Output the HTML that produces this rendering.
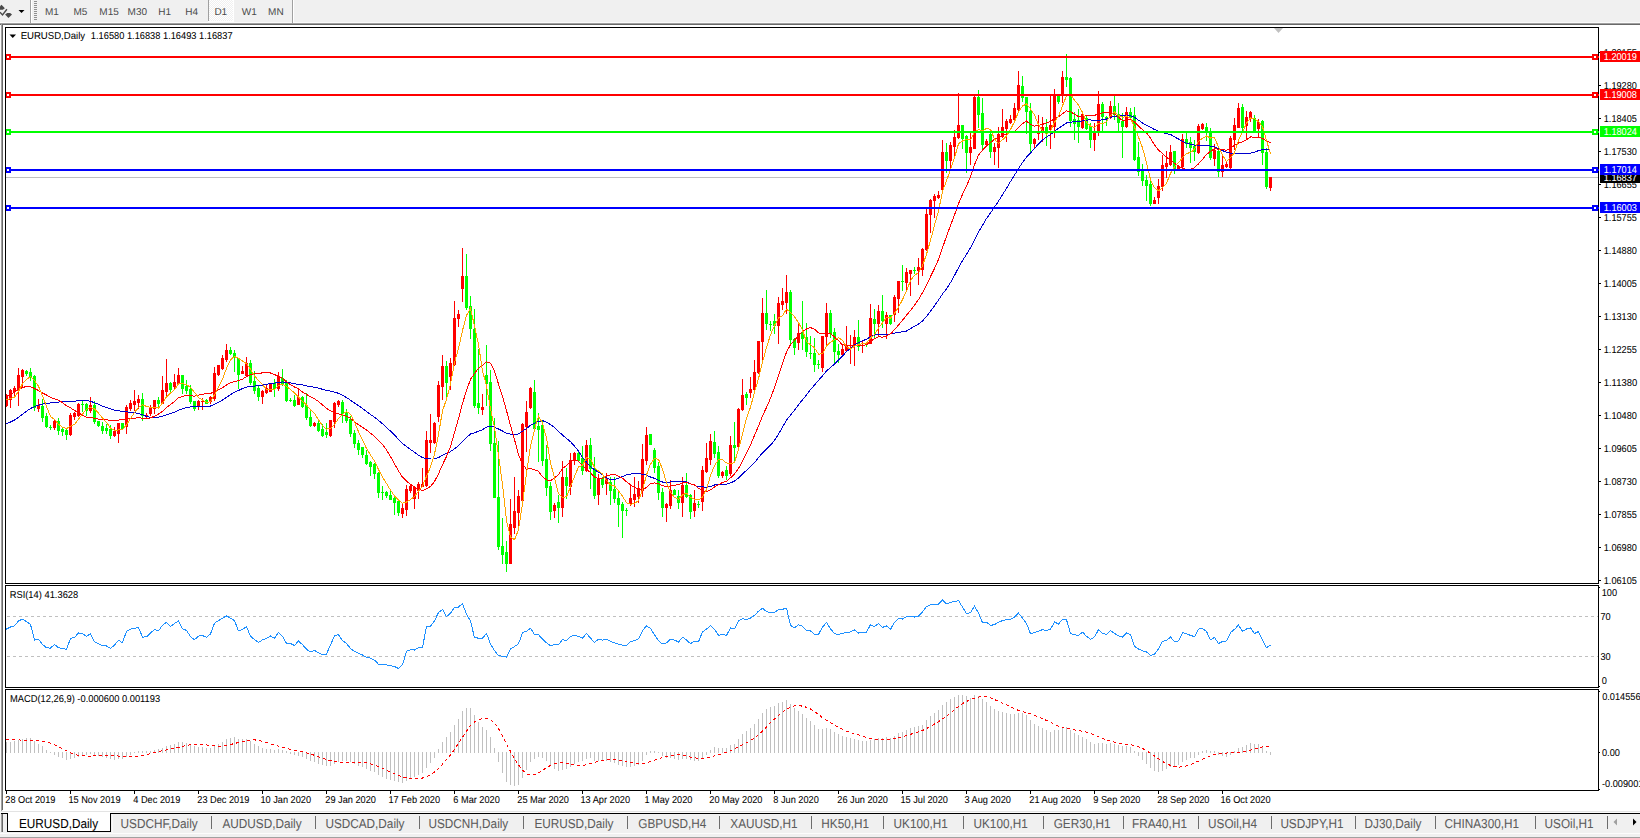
<!DOCTYPE html>
<html><head><meta charset="utf-8"><title>EURUSD,Daily</title>
<style>html,body{margin:0;padding:0;width:1640px;height:838px;overflow:hidden;background:#f0f0f0;font-family:"Liberation Sans", sans-serif;}
svg{display:block}</style></head><body><svg width="1640" height="838" viewBox="0 0 1640 838" font-family='"Liberation Sans", sans-serif' text-rendering="geometricPrecision"><rect x="0" y="0" width="1640" height="838" fill="#f0f0f0"/><rect x="0" y="22" width="1640" height="1" fill="#fbfbfb"/><rect x="0" y="23" width="1640" height="1" fill="#a0a0a0"/><rect x="0" y="24" width="1640" height="1" fill="#696969"/><rect x="0" y="25" width="1" height="813" fill="#fbfbfb"/><rect x="1" y="23" width="1" height="788" fill="#a0a0a0"/><rect x="2" y="24" width="1" height="786" fill="#696969"/><rect x="3" y="25" width="1637" height="786" fill="#ffffff"/><path d="M0 6.3 L1.5 4.8 L4.9 8.3 L2.8 9.8 L0 9.8 Z" fill="#4a4a4a"/><polyline points="0,12.3 2.5,14.9 6.9,9.3" fill="none" stroke="#4a4a4a" stroke-width="1.4"/><path d="M5.1 14.6 L7.2 13 L10.1 13 L12 14.6 L8.5 18 Z" fill="#4a4a4a"/><path d="M18.5 10 L24.5 10 L21.5 13 Z" fill="#000"/><rect x="30" y="0" width="1" height="23" fill="#a0a0a0"/><rect x="31" y="0" width="1" height="23" fill="#ffffff"/><rect x="34" y="1" width="3" height="1" fill="#8f8f8f"/><rect x="34" y="3" width="3" height="1" fill="#8f8f8f"/><rect x="34" y="5" width="3" height="1" fill="#8f8f8f"/><rect x="34" y="7" width="3" height="1" fill="#8f8f8f"/><rect x="34" y="9" width="3" height="1" fill="#8f8f8f"/><rect x="34" y="11" width="3" height="1" fill="#8f8f8f"/><rect x="34" y="13" width="3" height="1" fill="#8f8f8f"/><rect x="34" y="15" width="3" height="1" fill="#8f8f8f"/><rect x="34" y="17" width="3" height="1" fill="#8f8f8f"/><rect x="34" y="19" width="3" height="1" fill="#8f8f8f"/><defs><pattern id="dith" width="2" height="2" patternUnits="userSpaceOnUse"><rect width="2" height="2" fill="#f0f0f0"/><rect width="1" height="1" fill="#fff"/><rect x="1" y="1" width="1" height="1" fill="#fff"/></pattern></defs><rect x="209" y="0" width="24" height="21" fill="url(#dith)"/><rect x="208" y="0" width="1" height="21" fill="#a0a0a0"/><rect x="233" y="0" width="1" height="22" fill="#ffffff"/><rect x="208" y="21" width="26" height="1" fill="#ffffff"/><rect x="292" y="0" width="1" height="23" fill="#a0a0a0"/><rect x="293" y="0" width="1" height="23" fill="#ffffff"/><text x="45" y="15" font-size="10" fill="#4a4a4a" stroke="none">M1</text><text x="73.5" y="15" font-size="10" fill="#4a4a4a" stroke="none">M5</text><text x="99.3" y="15" font-size="10" fill="#4a4a4a" stroke="none">M15</text><text x="127.6" y="15" font-size="10" fill="#4a4a4a" stroke="none">M30</text><text x="158.3" y="15" font-size="10" fill="#4a4a4a" stroke="none">H1</text><text x="185.2" y="15" font-size="10" fill="#4a4a4a" stroke="none">H4</text><text x="214.4" y="15" font-size="10" fill="#4a4a4a" stroke="none">D1</text><text x="241.8" y="15" font-size="10" fill="#4a4a4a" stroke="none">W1</text><text x="268.1" y="15" font-size="10" fill="#4a4a4a" stroke="none">MN</text><defs><clipPath id="cm"><rect x="6" y="28" width="1592" height="555"/></clipPath><clipPath id="cr"><rect x="6" y="586" width="1592" height="101"/></clipPath><clipPath id="cd"><rect x="6" y="690" width="1592" height="100"/></clipPath></defs><g clip-path="url(#cm)" shape-rendering="crispEdges"><rect x="6" y="177" width="1592" height="1" fill="#c0c0c0"/><rect x="6" y="394" width="1" height="13" fill="#ff0000"/><rect x="5" y="395" width="3" height="11" fill="#ff0000"/><rect x="10" y="389" width="1" height="19" fill="#ff0000"/><rect x="9" y="390" width="3" height="10" fill="#ff0000"/><rect x="14" y="386" width="1" height="10" fill="#ff0000"/><rect x="13" y="388" width="3" height="4" fill="#ff0000"/><rect x="18" y="368" width="1" height="38" fill="#ff0000"/><rect x="17" y="375" width="3" height="15" fill="#ff0000"/><rect x="22" y="369" width="1" height="19" fill="#ff0000"/><rect x="21" y="370" width="3" height="7" fill="#ff0000"/><rect x="26" y="370" width="1" height="6" fill="#00ff00"/><rect x="25" y="371" width="3" height="3" fill="#00ff00"/><rect x="30" y="368" width="1" height="13" fill="#00ff00"/><rect x="29" y="372" width="3" height="6" fill="#00ff00"/><rect x="34" y="375" width="1" height="36" fill="#00ff00"/><rect x="33" y="376" width="3" height="32" fill="#00ff00"/><rect x="38" y="399" width="1" height="13" fill="#ff0000"/><rect x="37" y="405" width="3" height="4" fill="#ff0000"/><rect x="42" y="399" width="1" height="23" fill="#00ff00"/><rect x="41" y="406" width="3" height="12" fill="#00ff00"/><rect x="46" y="413" width="1" height="15" fill="#00ff00"/><rect x="45" y="416" width="3" height="11" fill="#00ff00"/><rect x="50" y="425" width="1" height="5" fill="#00ff00"/><rect x="49" y="427" width="3" height="1" fill="#00ff00"/><rect x="54" y="419" width="1" height="11" fill="#ff0000"/><rect x="53" y="421" width="3" height="7" fill="#ff0000"/><rect x="58" y="418" width="1" height="17" fill="#00ff00"/><rect x="57" y="421" width="3" height="10" fill="#00ff00"/><rect x="62" y="427" width="1" height="9" fill="#00ff00"/><rect x="61" y="429" width="3" height="3" fill="#00ff00"/><rect x="66" y="428" width="1" height="12" fill="#00ff00"/><rect x="65" y="430" width="3" height="5" fill="#00ff00"/><rect x="70" y="413" width="1" height="23" fill="#ff0000"/><rect x="69" y="415" width="3" height="20" fill="#ff0000"/><rect x="74" y="412" width="1" height="8" fill="#ff0000"/><rect x="73" y="413" width="3" height="4" fill="#ff0000"/><rect x="78" y="403" width="1" height="14" fill="#ff0000"/><rect x="77" y="404" width="3" height="12" fill="#ff0000"/><rect x="82" y="401" width="1" height="11" fill="#00ff00"/><rect x="81" y="404" width="3" height="1" fill="#00ff00"/><rect x="86" y="403" width="1" height="13" fill="#00ff00"/><rect x="85" y="404" width="3" height="7" fill="#00ff00"/><rect x="90" y="397" width="1" height="16" fill="#ff0000"/><rect x="89" y="405" width="3" height="6" fill="#ff0000"/><rect x="94" y="401" width="1" height="23" fill="#00ff00"/><rect x="93" y="405" width="3" height="17" fill="#00ff00"/><rect x="98" y="421" width="1" height="6" fill="#00ff00"/><rect x="97" y="421" width="3" height="5" fill="#00ff00"/><rect x="102" y="422" width="1" height="12" fill="#00ff00"/><rect x="101" y="426" width="3" height="5" fill="#00ff00"/><rect x="106" y="424" width="1" height="10" fill="#00ff00"/><rect x="105" y="428" width="3" height="3" fill="#00ff00"/><rect x="110" y="425" width="1" height="14" fill="#00ff00"/><rect x="109" y="429" width="3" height="7" fill="#00ff00"/><rect x="114" y="427" width="1" height="10" fill="#ff0000"/><rect x="113" y="431" width="3" height="5" fill="#ff0000"/><rect x="118" y="423" width="1" height="20" fill="#ff0000"/><rect x="117" y="423" width="3" height="11" fill="#ff0000"/><rect x="122" y="423" width="1" height="7" fill="#00ff00"/><rect x="121" y="423" width="3" height="6" fill="#00ff00"/><rect x="126" y="405" width="1" height="29" fill="#ff0000"/><rect x="125" y="407" width="3" height="20" fill="#ff0000"/><rect x="130" y="400" width="1" height="11" fill="#ff0000"/><rect x="129" y="403" width="3" height="6" fill="#ff0000"/><rect x="134" y="390" width="1" height="21" fill="#ff0000"/><rect x="133" y="401" width="3" height="4" fill="#ff0000"/><rect x="138" y="395" width="1" height="14" fill="#ff0000"/><rect x="137" y="399" width="3" height="4" fill="#ff0000"/><rect x="142" y="393" width="1" height="28" fill="#00ff00"/><rect x="141" y="399" width="3" height="17" fill="#00ff00"/><rect x="146" y="413" width="1" height="5" fill="#ff0000"/><rect x="145" y="415" width="3" height="2" fill="#ff0000"/><rect x="150" y="405" width="1" height="11" fill="#ff0000"/><rect x="149" y="408" width="3" height="6" fill="#ff0000"/><rect x="154" y="400" width="1" height="14" fill="#ff0000"/><rect x="153" y="400" width="3" height="9" fill="#ff0000"/><rect x="158" y="397" width="1" height="12" fill="#00ff00"/><rect x="157" y="400" width="3" height="4" fill="#00ff00"/><rect x="162" y="376" width="1" height="28" fill="#ff0000"/><rect x="161" y="390" width="3" height="14" fill="#ff0000"/><rect x="166" y="359" width="1" height="38" fill="#ff0000"/><rect x="165" y="383" width="3" height="9" fill="#ff0000"/><rect x="170" y="382" width="1" height="12" fill="#00ff00"/><rect x="169" y="383" width="3" height="7" fill="#00ff00"/><rect x="174" y="374" width="1" height="16" fill="#ff0000"/><rect x="173" y="382" width="3" height="5" fill="#ff0000"/><rect x="178" y="368" width="1" height="17" fill="#ff0000"/><rect x="177" y="375" width="3" height="9" fill="#ff0000"/><rect x="182" y="375" width="1" height="19" fill="#00ff00"/><rect x="181" y="375" width="3" height="14" fill="#00ff00"/><rect x="186" y="380" width="1" height="14" fill="#00ff00"/><rect x="185" y="386" width="3" height="5" fill="#00ff00"/><rect x="190" y="385" width="1" height="19" fill="#00ff00"/><rect x="189" y="389" width="3" height="13" fill="#00ff00"/><rect x="194" y="401" width="1" height="10" fill="#00ff00"/><rect x="193" y="401" width="3" height="8" fill="#00ff00"/><rect x="198" y="400" width="1" height="10" fill="#ff0000"/><rect x="197" y="401" width="3" height="5" fill="#ff0000"/><rect x="202" y="398" width="1" height="12" fill="#ff0000"/><rect x="201" y="401" width="3" height="1" fill="#ff0000"/><rect x="206" y="399" width="1" height="5" fill="#00ff00"/><rect x="205" y="400" width="3" height="4" fill="#00ff00"/><rect x="210" y="396" width="1" height="8" fill="#ff0000"/><rect x="209" y="397" width="3" height="5" fill="#ff0000"/><rect x="214" y="367" width="1" height="34" fill="#ff0000"/><rect x="213" y="373" width="3" height="26" fill="#ff0000"/><rect x="218" y="365" width="1" height="11" fill="#ff0000"/><rect x="217" y="365" width="3" height="10" fill="#ff0000"/><rect x="222" y="355" width="1" height="15" fill="#ff0000"/><rect x="221" y="358" width="3" height="11" fill="#ff0000"/><rect x="226" y="344" width="1" height="18" fill="#ff0000"/><rect x="225" y="350" width="3" height="10" fill="#ff0000"/><rect x="230" y="347" width="1" height="8" fill="#00ff00"/><rect x="229" y="350" width="3" height="4" fill="#00ff00"/><rect x="234" y="350" width="1" height="22" fill="#00ff00"/><rect x="233" y="353" width="3" height="5" fill="#00ff00"/><rect x="238" y="358" width="1" height="31" fill="#00ff00"/><rect x="237" y="358" width="3" height="17" fill="#00ff00"/><rect x="242" y="366" width="1" height="8" fill="#ff0000"/><rect x="241" y="371" width="3" height="3" fill="#ff0000"/><rect x="246" y="357" width="1" height="20" fill="#ff0000"/><rect x="245" y="363" width="3" height="13" fill="#ff0000"/><rect x="250" y="360" width="1" height="25" fill="#00ff00"/><rect x="249" y="363" width="3" height="20" fill="#00ff00"/><rect x="254" y="371" width="1" height="23" fill="#00ff00"/><rect x="253" y="381" width="3" height="10" fill="#00ff00"/><rect x="258" y="386" width="1" height="15" fill="#00ff00"/><rect x="257" y="388" width="3" height="9" fill="#00ff00"/><rect x="262" y="390" width="1" height="14" fill="#ff0000"/><rect x="261" y="391" width="3" height="6" fill="#ff0000"/><rect x="266" y="384" width="1" height="10" fill="#ff0000"/><rect x="265" y="388" width="3" height="5" fill="#ff0000"/><rect x="270" y="383" width="1" height="9" fill="#ff0000"/><rect x="269" y="384" width="3" height="8" fill="#ff0000"/><rect x="274" y="379" width="1" height="18" fill="#00ff00"/><rect x="273" y="383" width="3" height="6" fill="#00ff00"/><rect x="278" y="372" width="1" height="19" fill="#ff0000"/><rect x="277" y="376" width="3" height="13" fill="#ff0000"/><rect x="282" y="369" width="1" height="17" fill="#00ff00"/><rect x="281" y="378" width="3" height="7" fill="#00ff00"/><rect x="286" y="380" width="1" height="22" fill="#00ff00"/><rect x="285" y="383" width="3" height="18" fill="#00ff00"/><rect x="290" y="398" width="1" height="4" fill="#00ff00"/><rect x="289" y="400" width="3" height="1" fill="#00ff00"/><rect x="294" y="395" width="1" height="12" fill="#00ff00"/><rect x="293" y="400" width="3" height="6" fill="#00ff00"/><rect x="298" y="388" width="1" height="17" fill="#ff0000"/><rect x="297" y="397" width="3" height="8" fill="#ff0000"/><rect x="302" y="396" width="1" height="12" fill="#00ff00"/><rect x="301" y="397" width="3" height="10" fill="#00ff00"/><rect x="306" y="393" width="1" height="27" fill="#00ff00"/><rect x="305" y="405" width="3" height="13" fill="#00ff00"/><rect x="310" y="411" width="1" height="16" fill="#00ff00"/><rect x="309" y="417" width="3" height="9" fill="#00ff00"/><rect x="314" y="422" width="1" height="5" fill="#ff0000"/><rect x="313" y="423" width="3" height="3" fill="#ff0000"/><rect x="318" y="420" width="1" height="12" fill="#00ff00"/><rect x="317" y="423" width="3" height="8" fill="#00ff00"/><rect x="322" y="424" width="1" height="13" fill="#00ff00"/><rect x="321" y="429" width="3" height="7" fill="#00ff00"/><rect x="326" y="423" width="1" height="15" fill="#00ff00"/><rect x="325" y="432" width="3" height="3" fill="#00ff00"/><rect x="330" y="420" width="1" height="17" fill="#ff0000"/><rect x="329" y="420" width="3" height="16" fill="#ff0000"/><rect x="334" y="402" width="1" height="26" fill="#ff0000"/><rect x="333" y="403" width="3" height="19" fill="#ff0000"/><rect x="338" y="400" width="1" height="7" fill="#ff0000"/><rect x="337" y="401" width="3" height="4" fill="#ff0000"/><rect x="342" y="400" width="1" height="23" fill="#00ff00"/><rect x="341" y="402" width="3" height="12" fill="#00ff00"/><rect x="346" y="409" width="1" height="14" fill="#00ff00"/><rect x="345" y="412" width="3" height="9" fill="#00ff00"/><rect x="350" y="416" width="1" height="21" fill="#00ff00"/><rect x="349" y="419" width="3" height="15" fill="#00ff00"/><rect x="354" y="430" width="1" height="18" fill="#00ff00"/><rect x="353" y="433" width="3" height="11" fill="#00ff00"/><rect x="358" y="440" width="1" height="15" fill="#00ff00"/><rect x="357" y="443" width="3" height="7" fill="#00ff00"/><rect x="362" y="447" width="1" height="11" fill="#00ff00"/><rect x="361" y="447" width="3" height="8" fill="#00ff00"/><rect x="366" y="450" width="1" height="15" fill="#00ff00"/><rect x="365" y="455" width="3" height="9" fill="#00ff00"/><rect x="370" y="461" width="1" height="15" fill="#00ff00"/><rect x="369" y="462" width="3" height="5" fill="#00ff00"/><rect x="374" y="463" width="1" height="16" fill="#00ff00"/><rect x="373" y="464" width="3" height="10" fill="#00ff00"/><rect x="378" y="472" width="1" height="26" fill="#00ff00"/><rect x="377" y="473" width="3" height="20" fill="#00ff00"/><rect x="382" y="486" width="1" height="14" fill="#00ff00"/><rect x="381" y="492" width="3" height="1" fill="#00ff00"/><rect x="386" y="491" width="1" height="7" fill="#00ff00"/><rect x="385" y="492" width="3" height="4" fill="#00ff00"/><rect x="390" y="490" width="1" height="10" fill="#00ff00"/><rect x="389" y="495" width="3" height="5" fill="#00ff00"/><rect x="394" y="495" width="1" height="20" fill="#00ff00"/><rect x="393" y="498" width="3" height="5" fill="#00ff00"/><rect x="398" y="499" width="1" height="17" fill="#00ff00"/><rect x="397" y="501" width="3" height="12" fill="#00ff00"/><rect x="402" y="503" width="1" height="15" fill="#ff0000"/><rect x="401" y="508" width="3" height="6" fill="#ff0000"/><rect x="406" y="485" width="1" height="31" fill="#ff0000"/><rect x="405" y="489" width="3" height="21" fill="#ff0000"/><rect x="410" y="485" width="1" height="8" fill="#ff0000"/><rect x="409" y="486" width="3" height="5" fill="#ff0000"/><rect x="414" y="486" width="1" height="23" fill="#ff0000"/><rect x="413" y="487" width="3" height="12" fill="#ff0000"/><rect x="418" y="482" width="1" height="17" fill="#ff0000"/><rect x="417" y="484" width="3" height="7" fill="#ff0000"/><rect x="422" y="468" width="1" height="19" fill="#ff0000"/><rect x="421" y="484" width="3" height="3" fill="#ff0000"/><rect x="426" y="431" width="1" height="56" fill="#ff0000"/><rect x="425" y="440" width="3" height="46" fill="#ff0000"/><rect x="430" y="414" width="1" height="39" fill="#ff0000"/><rect x="429" y="440" width="3" height="3" fill="#ff0000"/><rect x="434" y="422" width="1" height="22" fill="#ff0000"/><rect x="433" y="423" width="3" height="20" fill="#ff0000"/><rect x="438" y="381" width="1" height="41" fill="#ff0000"/><rect x="437" y="385" width="3" height="32" fill="#ff0000"/><rect x="442" y="355" width="1" height="45" fill="#ff0000"/><rect x="441" y="366" width="3" height="21" fill="#ff0000"/><rect x="446" y="361" width="1" height="38" fill="#00ff00"/><rect x="445" y="366" width="3" height="17" fill="#00ff00"/><rect x="450" y="358" width="1" height="32" fill="#ff0000"/><rect x="449" y="363" width="3" height="14" fill="#ff0000"/><rect x="454" y="301" width="1" height="65" fill="#ff0000"/><rect x="453" y="318" width="3" height="47" fill="#ff0000"/><rect x="458" y="310" width="1" height="17" fill="#ff0000"/><rect x="457" y="314" width="3" height="5" fill="#ff0000"/><rect x="462" y="248" width="1" height="54" fill="#ff0000"/><rect x="461" y="276" width="3" height="13" fill="#ff0000"/><rect x="466" y="254" width="1" height="56" fill="#00ff00"/><rect x="465" y="276" width="3" height="32" fill="#00ff00"/><rect x="470" y="296" width="1" height="43" fill="#00ff00"/><rect x="469" y="306" width="3" height="23" fill="#00ff00"/><rect x="474" y="309" width="1" height="99" fill="#00ff00"/><rect x="473" y="329" width="3" height="77" fill="#00ff00"/><rect x="478" y="349" width="1" height="65" fill="#00ff00"/><rect x="477" y="403" width="3" height="5" fill="#00ff00"/><rect x="482" y="394" width="1" height="21" fill="#ff0000"/><rect x="481" y="407" width="3" height="3" fill="#ff0000"/><rect x="486" y="345" width="1" height="61" fill="#00ff00"/><rect x="485" y="375" width="3" height="9" fill="#00ff00"/><rect x="490" y="370" width="1" height="81" fill="#00ff00"/><rect x="489" y="382" width="3" height="62" fill="#00ff00"/><rect x="494" y="418" width="1" height="80" fill="#00ff00"/><rect x="493" y="443" width="3" height="55" fill="#00ff00"/><rect x="498" y="441" width="1" height="109" fill="#00ff00"/><rect x="497" y="497" width="3" height="50" fill="#00ff00"/><rect x="502" y="518" width="1" height="46" fill="#00ff00"/><rect x="501" y="546" width="3" height="9" fill="#00ff00"/><rect x="506" y="541" width="1" height="31" fill="#00ff00"/><rect x="505" y="552" width="3" height="12" fill="#00ff00"/><rect x="510" y="499" width="1" height="65" fill="#ff0000"/><rect x="509" y="524" width="3" height="40" fill="#ff0000"/><rect x="514" y="477" width="1" height="57" fill="#ff0000"/><rect x="513" y="511" width="3" height="17" fill="#ff0000"/><rect x="518" y="490" width="1" height="38" fill="#ff0000"/><rect x="517" y="496" width="3" height="17" fill="#ff0000"/><rect x="522" y="423" width="1" height="79" fill="#ff0000"/><rect x="521" y="424" width="3" height="77" fill="#ff0000"/><rect x="526" y="401" width="1" height="51" fill="#ff0000"/><rect x="525" y="412" width="3" height="15" fill="#ff0000"/><rect x="530" y="387" width="1" height="22" fill="#ff0000"/><rect x="529" y="388" width="3" height="20" fill="#ff0000"/><rect x="534" y="380" width="1" height="50" fill="#00ff00"/><rect x="533" y="392" width="3" height="37" fill="#00ff00"/><rect x="538" y="413" width="1" height="49" fill="#00ff00"/><rect x="537" y="426" width="3" height="4" fill="#00ff00"/><rect x="542" y="420" width="1" height="46" fill="#00ff00"/><rect x="541" y="425" width="3" height="36" fill="#00ff00"/><rect x="546" y="445" width="1" height="51" fill="#00ff00"/><rect x="545" y="459" width="3" height="29" fill="#00ff00"/><rect x="550" y="482" width="1" height="38" fill="#00ff00"/><rect x="549" y="486" width="3" height="26" fill="#00ff00"/><rect x="554" y="503" width="1" height="15" fill="#ff0000"/><rect x="553" y="505" width="3" height="6" fill="#ff0000"/><rect x="558" y="495" width="1" height="28" fill="#00ff00"/><rect x="557" y="502" width="3" height="6" fill="#00ff00"/><rect x="562" y="461" width="1" height="56" fill="#ff0000"/><rect x="561" y="477" width="3" height="31" fill="#ff0000"/><rect x="566" y="468" width="1" height="31" fill="#00ff00"/><rect x="565" y="477" width="3" height="9" fill="#00ff00"/><rect x="570" y="453" width="1" height="42" fill="#ff0000"/><rect x="569" y="460" width="3" height="27" fill="#ff0000"/><rect x="574" y="452" width="1" height="13" fill="#ff0000"/><rect x="573" y="453" width="3" height="8" fill="#ff0000"/><rect x="578" y="452" width="1" height="10" fill="#00ff00"/><rect x="577" y="453" width="3" height="8" fill="#00ff00"/><rect x="582" y="446" width="1" height="29" fill="#00ff00"/><rect x="581" y="458" width="3" height="13" fill="#00ff00"/><rect x="586" y="440" width="1" height="32" fill="#ff0000"/><rect x="585" y="445" width="3" height="26" fill="#ff0000"/><rect x="590" y="438" width="1" height="51" fill="#00ff00"/><rect x="589" y="445" width="3" height="24" fill="#00ff00"/><rect x="594" y="457" width="1" height="42" fill="#00ff00"/><rect x="593" y="468" width="3" height="28" fill="#00ff00"/><rect x="598" y="474" width="1" height="31" fill="#ff0000"/><rect x="597" y="478" width="3" height="17" fill="#ff0000"/><rect x="602" y="477" width="1" height="11" fill="#00ff00"/><rect x="601" y="478" width="3" height="7" fill="#00ff00"/><rect x="606" y="473" width="1" height="22" fill="#ff0000"/><rect x="605" y="479" width="3" height="5" fill="#ff0000"/><rect x="610" y="477" width="1" height="28" fill="#00ff00"/><rect x="609" y="482" width="3" height="9" fill="#00ff00"/><rect x="614" y="477" width="1" height="26" fill="#00ff00"/><rect x="613" y="489" width="3" height="10" fill="#00ff00"/><rect x="618" y="492" width="1" height="35" fill="#00ff00"/><rect x="617" y="498" width="3" height="7" fill="#00ff00"/><rect x="622" y="502" width="1" height="36" fill="#00ff00"/><rect x="621" y="504" width="3" height="7" fill="#00ff00"/><rect x="626" y="508" width="1" height="8" fill="#00ff00"/><rect x="625" y="510" width="3" height="1" fill="#00ff00"/><rect x="630" y="486" width="1" height="20" fill="#ff0000"/><rect x="629" y="498" width="3" height="6" fill="#ff0000"/><rect x="634" y="477" width="1" height="30" fill="#ff0000"/><rect x="633" y="494" width="3" height="6" fill="#ff0000"/><rect x="638" y="481" width="1" height="22" fill="#ff0000"/><rect x="637" y="489" width="3" height="8" fill="#ff0000"/><rect x="642" y="444" width="1" height="53" fill="#ff0000"/><rect x="641" y="459" width="3" height="32" fill="#ff0000"/><rect x="646" y="427" width="1" height="38" fill="#ff0000"/><rect x="645" y="435" width="3" height="26" fill="#ff0000"/><rect x="650" y="434" width="1" height="11" fill="#00ff00"/><rect x="649" y="434" width="3" height="11" fill="#00ff00"/><rect x="654" y="448" width="1" height="25" fill="#00ff00"/><rect x="653" y="450" width="3" height="18" fill="#00ff00"/><rect x="658" y="462" width="1" height="38" fill="#00ff00"/><rect x="657" y="466" width="3" height="27" fill="#00ff00"/><rect x="662" y="488" width="1" height="29" fill="#00ff00"/><rect x="661" y="492" width="3" height="16" fill="#00ff00"/><rect x="666" y="503" width="1" height="19" fill="#ff0000"/><rect x="665" y="504" width="3" height="4" fill="#ff0000"/><rect x="670" y="480" width="1" height="29" fill="#ff0000"/><rect x="669" y="490" width="3" height="16" fill="#ff0000"/><rect x="674" y="489" width="1" height="6" fill="#00ff00"/><rect x="673" y="490" width="3" height="5" fill="#00ff00"/><rect x="678" y="490" width="1" height="19" fill="#00ff00"/><rect x="677" y="496" width="3" height="7" fill="#00ff00"/><rect x="682" y="477" width="1" height="40" fill="#ff0000"/><rect x="681" y="485" width="3" height="18" fill="#ff0000"/><rect x="686" y="473" width="1" height="25" fill="#00ff00"/><rect x="685" y="485" width="3" height="12" fill="#00ff00"/><rect x="690" y="494" width="1" height="25" fill="#00ff00"/><rect x="689" y="495" width="3" height="17" fill="#00ff00"/><rect x="694" y="490" width="1" height="27" fill="#ff0000"/><rect x="693" y="503" width="3" height="8" fill="#ff0000"/><rect x="698" y="501" width="1" height="7" fill="#00ff00"/><rect x="697" y="504" width="3" height="1" fill="#00ff00"/><rect x="702" y="466" width="1" height="45" fill="#ff0000"/><rect x="701" y="470" width="3" height="32" fill="#ff0000"/><rect x="706" y="443" width="1" height="30" fill="#ff0000"/><rect x="705" y="458" width="3" height="14" fill="#ff0000"/><rect x="710" y="434" width="1" height="31" fill="#ff0000"/><rect x="709" y="441" width="3" height="19" fill="#ff0000"/><rect x="714" y="431" width="1" height="27" fill="#00ff00"/><rect x="713" y="442" width="3" height="12" fill="#00ff00"/><rect x="718" y="446" width="1" height="32" fill="#00ff00"/><rect x="717" y="452" width="3" height="24" fill="#00ff00"/><rect x="722" y="471" width="1" height="7" fill="#ff0000"/><rect x="721" y="472" width="3" height="4" fill="#ff0000"/><rect x="726" y="466" width="1" height="14" fill="#00ff00"/><rect x="725" y="470" width="3" height="6" fill="#00ff00"/><rect x="730" y="436" width="1" height="40" fill="#ff0000"/><rect x="729" y="445" width="3" height="29" fill="#ff0000"/><rect x="734" y="422" width="1" height="39" fill="#00ff00"/><rect x="733" y="445" width="3" height="3" fill="#00ff00"/><rect x="738" y="408" width="1" height="40" fill="#ff0000"/><rect x="737" y="409" width="3" height="38" fill="#ff0000"/><rect x="742" y="379" width="1" height="32" fill="#ff0000"/><rect x="741" y="395" width="3" height="15" fill="#ff0000"/><rect x="746" y="392" width="1" height="13" fill="#00ff00"/><rect x="745" y="394" width="3" height="4" fill="#00ff00"/><rect x="750" y="377" width="1" height="21" fill="#ff0000"/><rect x="749" y="389" width="3" height="4" fill="#ff0000"/><rect x="754" y="360" width="1" height="31" fill="#ff0000"/><rect x="753" y="372" width="3" height="18" fill="#ff0000"/><rect x="758" y="341" width="1" height="33" fill="#ff0000"/><rect x="757" y="341" width="3" height="32" fill="#ff0000"/><rect x="762" y="298" width="1" height="64" fill="#ff0000"/><rect x="761" y="313" width="3" height="29" fill="#ff0000"/><rect x="766" y="290" width="1" height="40" fill="#00ff00"/><rect x="765" y="313" width="3" height="11" fill="#00ff00"/><rect x="770" y="321" width="1" height="10" fill="#00ff00"/><rect x="769" y="324" width="3" height="1" fill="#00ff00"/><rect x="774" y="314" width="1" height="20" fill="#00ff00"/><rect x="773" y="321" width="3" height="5" fill="#00ff00"/><rect x="778" y="297" width="1" height="47" fill="#ff0000"/><rect x="777" y="303" width="3" height="23" fill="#ff0000"/><rect x="782" y="288" width="1" height="22" fill="#ff0000"/><rect x="781" y="301" width="3" height="4" fill="#ff0000"/><rect x="786" y="275" width="1" height="39" fill="#ff0000"/><rect x="785" y="292" width="3" height="11" fill="#ff0000"/><rect x="790" y="290" width="1" height="54" fill="#00ff00"/><rect x="789" y="292" width="3" height="48" fill="#00ff00"/><rect x="794" y="338" width="1" height="17" fill="#00ff00"/><rect x="793" y="339" width="3" height="9" fill="#00ff00"/><rect x="798" y="324" width="1" height="26" fill="#ff0000"/><rect x="797" y="333" width="3" height="10" fill="#ff0000"/><rect x="802" y="301" width="1" height="49" fill="#00ff00"/><rect x="801" y="333" width="3" height="6" fill="#00ff00"/><rect x="806" y="323" width="1" height="34" fill="#00ff00"/><rect x="805" y="337" width="3" height="15" fill="#00ff00"/><rect x="810" y="336" width="1" height="23" fill="#00ff00"/><rect x="809" y="353" width="3" height="1" fill="#00ff00"/><rect x="814" y="338" width="1" height="34" fill="#00ff00"/><rect x="813" y="353" width="3" height="12" fill="#00ff00"/><rect x="818" y="360" width="1" height="9" fill="#00ff00"/><rect x="817" y="364" width="3" height="1" fill="#00ff00"/><rect x="822" y="336" width="1" height="36" fill="#ff0000"/><rect x="821" y="336" width="3" height="32" fill="#ff0000"/><rect x="826" y="303" width="1" height="44" fill="#ff0000"/><rect x="825" y="313" width="3" height="24" fill="#ff0000"/><rect x="830" y="310" width="1" height="28" fill="#00ff00"/><rect x="829" y="313" width="3" height="21" fill="#00ff00"/><rect x="834" y="328" width="1" height="36" fill="#00ff00"/><rect x="833" y="332" width="3" height="20" fill="#00ff00"/><rect x="838" y="344" width="1" height="19" fill="#00ff00"/><rect x="837" y="351" width="3" height="4" fill="#00ff00"/><rect x="842" y="344" width="1" height="11" fill="#ff0000"/><rect x="841" y="349" width="3" height="6" fill="#ff0000"/><rect x="846" y="326" width="1" height="25" fill="#ff0000"/><rect x="845" y="346" width="3" height="5" fill="#ff0000"/><rect x="850" y="335" width="1" height="29" fill="#ff0000"/><rect x="849" y="345" width="3" height="1" fill="#ff0000"/><rect x="854" y="330" width="1" height="36" fill="#ff0000"/><rect x="853" y="337" width="3" height="9" fill="#ff0000"/><rect x="858" y="320" width="1" height="31" fill="#00ff00"/><rect x="857" y="337" width="3" height="10" fill="#00ff00"/><rect x="862" y="341" width="1" height="12" fill="#ff0000"/><rect x="861" y="345" width="3" height="1" fill="#ff0000"/><rect x="866" y="342" width="1" height="5" fill="#00ff00"/><rect x="865" y="343" width="3" height="1" fill="#00ff00"/><rect x="870" y="304" width="1" height="40" fill="#ff0000"/><rect x="869" y="318" width="3" height="26" fill="#ff0000"/><rect x="874" y="309" width="1" height="29" fill="#00ff00"/><rect x="873" y="319" width="3" height="5" fill="#00ff00"/><rect x="878" y="305" width="1" height="31" fill="#ff0000"/><rect x="877" y="311" width="3" height="13" fill="#ff0000"/><rect x="882" y="295" width="1" height="33" fill="#00ff00"/><rect x="881" y="311" width="3" height="10" fill="#00ff00"/><rect x="886" y="312" width="1" height="27" fill="#ff0000"/><rect x="885" y="315" width="3" height="9" fill="#ff0000"/><rect x="890" y="315" width="1" height="10" fill="#00ff00"/><rect x="889" y="315" width="3" height="9" fill="#00ff00"/><rect x="894" y="295" width="1" height="27" fill="#ff0000"/><rect x="893" y="297" width="3" height="18" fill="#ff0000"/><rect x="898" y="281" width="1" height="32" fill="#ff0000"/><rect x="897" y="281" width="3" height="18" fill="#ff0000"/><rect x="902" y="265" width="1" height="26" fill="#00ff00"/><rect x="901" y="281" width="3" height="1" fill="#00ff00"/><rect x="906" y="268" width="1" height="23" fill="#ff0000"/><rect x="905" y="272" width="3" height="11" fill="#ff0000"/><rect x="910" y="270" width="1" height="26" fill="#ff0000"/><rect x="909" y="270" width="3" height="4" fill="#ff0000"/><rect x="914" y="267" width="1" height="7" fill="#00ff00"/><rect x="913" y="270" width="3" height="1" fill="#00ff00"/><rect x="918" y="258" width="1" height="27" fill="#ff0000"/><rect x="917" y="267" width="3" height="4" fill="#ff0000"/><rect x="922" y="248" width="1" height="28" fill="#ff0000"/><rect x="921" y="249" width="3" height="21" fill="#ff0000"/><rect x="926" y="208" width="1" height="43" fill="#ff0000"/><rect x="925" y="214" width="3" height="36" fill="#ff0000"/><rect x="930" y="199" width="1" height="34" fill="#ff0000"/><rect x="929" y="200" width="3" height="15" fill="#ff0000"/><rect x="934" y="194" width="1" height="24" fill="#ff0000"/><rect x="933" y="196" width="3" height="5" fill="#ff0000"/><rect x="938" y="191" width="1" height="8" fill="#ff0000"/><rect x="937" y="195" width="3" height="3" fill="#ff0000"/><rect x="942" y="140" width="1" height="51" fill="#ff0000"/><rect x="941" y="152" width="3" height="38" fill="#ff0000"/><rect x="946" y="143" width="1" height="30" fill="#00ff00"/><rect x="945" y="152" width="3" height="9" fill="#00ff00"/><rect x="950" y="142" width="1" height="27" fill="#ff0000"/><rect x="949" y="145" width="3" height="16" fill="#ff0000"/><rect x="954" y="130" width="1" height="28" fill="#ff0000"/><rect x="953" y="137" width="3" height="10" fill="#ff0000"/><rect x="958" y="93" width="1" height="46" fill="#ff0000"/><rect x="957" y="125" width="3" height="13" fill="#ff0000"/><rect x="962" y="125" width="1" height="24" fill="#00ff00"/><rect x="961" y="125" width="3" height="14" fill="#00ff00"/><rect x="966" y="135" width="1" height="38" fill="#00ff00"/><rect x="965" y="136" width="3" height="17" fill="#00ff00"/><rect x="970" y="133" width="1" height="32" fill="#ff0000"/><rect x="969" y="147" width="3" height="6" fill="#ff0000"/><rect x="974" y="96" width="1" height="53" fill="#ff0000"/><rect x="973" y="97" width="3" height="52" fill="#ff0000"/><rect x="978" y="90" width="1" height="38" fill="#00ff00"/><rect x="977" y="97" width="3" height="18" fill="#00ff00"/><rect x="982" y="98" width="1" height="52" fill="#00ff00"/><rect x="981" y="113" width="3" height="32" fill="#00ff00"/><rect x="986" y="139" width="1" height="8" fill="#ff0000"/><rect x="985" y="141" width="3" height="4" fill="#ff0000"/><rect x="990" y="133" width="1" height="25" fill="#00ff00"/><rect x="989" y="134" width="3" height="18" fill="#00ff00"/><rect x="994" y="143" width="1" height="22" fill="#ff0000"/><rect x="993" y="147" width="3" height="5" fill="#ff0000"/><rect x="998" y="127" width="1" height="41" fill="#ff0000"/><rect x="997" y="134" width="3" height="14" fill="#ff0000"/><rect x="1002" y="109" width="1" height="29" fill="#ff0000"/><rect x="1001" y="127" width="3" height="10" fill="#ff0000"/><rect x="1006" y="119" width="1" height="23" fill="#ff0000"/><rect x="1005" y="121" width="3" height="8" fill="#ff0000"/><rect x="1010" y="115" width="1" height="9" fill="#ff0000"/><rect x="1009" y="119" width="3" height="4" fill="#ff0000"/><rect x="1014" y="103" width="1" height="18" fill="#ff0000"/><rect x="1013" y="108" width="3" height="12" fill="#ff0000"/><rect x="1018" y="71" width="1" height="40" fill="#ff0000"/><rect x="1017" y="85" width="3" height="25" fill="#ff0000"/><rect x="1022" y="76" width="1" height="26" fill="#00ff00"/><rect x="1021" y="86" width="3" height="12" fill="#00ff00"/><rect x="1026" y="97" width="1" height="37" fill="#00ff00"/><rect x="1025" y="97" width="3" height="15" fill="#00ff00"/><rect x="1030" y="103" width="1" height="49" fill="#00ff00"/><rect x="1029" y="111" width="3" height="33" fill="#00ff00"/><rect x="1034" y="138" width="1" height="11" fill="#ff0000"/><rect x="1033" y="139" width="3" height="5" fill="#ff0000"/><rect x="1038" y="115" width="1" height="25" fill="#ff0000"/><rect x="1037" y="133" width="3" height="1" fill="#ff0000"/><rect x="1042" y="117" width="1" height="25" fill="#ff0000"/><rect x="1041" y="127" width="3" height="4" fill="#ff0000"/><rect x="1046" y="119" width="1" height="27" fill="#00ff00"/><rect x="1045" y="127" width="3" height="4" fill="#00ff00"/><rect x="1050" y="95" width="1" height="54" fill="#ff0000"/><rect x="1049" y="125" width="3" height="5" fill="#ff0000"/><rect x="1054" y="89" width="1" height="49" fill="#ff0000"/><rect x="1053" y="95" width="3" height="32" fill="#ff0000"/><rect x="1058" y="95" width="1" height="9" fill="#00ff00"/><rect x="1057" y="96" width="3" height="6" fill="#00ff00"/><rect x="1062" y="71" width="1" height="32" fill="#ff0000"/><rect x="1061" y="77" width="3" height="19" fill="#ff0000"/><rect x="1066" y="54" width="1" height="33" fill="#00ff00"/><rect x="1065" y="77" width="3" height="3" fill="#00ff00"/><rect x="1070" y="77" width="1" height="50" fill="#00ff00"/><rect x="1069" y="78" width="3" height="43" fill="#00ff00"/><rect x="1074" y="112" width="1" height="28" fill="#00ff00"/><rect x="1073" y="119" width="3" height="5" fill="#00ff00"/><rect x="1078" y="109" width="1" height="34" fill="#00ff00"/><rect x="1077" y="120" width="3" height="7" fill="#00ff00"/><rect x="1082" y="114" width="1" height="15" fill="#ff0000"/><rect x="1081" y="114" width="3" height="14" fill="#ff0000"/><rect x="1086" y="116" width="1" height="14" fill="#00ff00"/><rect x="1085" y="118" width="3" height="11" fill="#00ff00"/><rect x="1090" y="123" width="1" height="25" fill="#00ff00"/><rect x="1089" y="126" width="3" height="14" fill="#00ff00"/><rect x="1094" y="123" width="1" height="28" fill="#ff0000"/><rect x="1093" y="131" width="3" height="9" fill="#ff0000"/><rect x="1098" y="91" width="1" height="45" fill="#ff0000"/><rect x="1097" y="104" width="3" height="28" fill="#ff0000"/><rect x="1102" y="102" width="1" height="30" fill="#00ff00"/><rect x="1101" y="104" width="3" height="13" fill="#00ff00"/><rect x="1106" y="116" width="1" height="10" fill="#00ff00"/><rect x="1105" y="117" width="3" height="3" fill="#00ff00"/><rect x="1110" y="101" width="1" height="18" fill="#ff0000"/><rect x="1109" y="106" width="3" height="11" fill="#ff0000"/><rect x="1114" y="96" width="1" height="24" fill="#00ff00"/><rect x="1113" y="106" width="3" height="9" fill="#00ff00"/><rect x="1118" y="103" width="1" height="29" fill="#00ff00"/><rect x="1117" y="114" width="3" height="9" fill="#00ff00"/><rect x="1122" y="113" width="1" height="45" fill="#00ff00"/><rect x="1121" y="121" width="3" height="6" fill="#00ff00"/><rect x="1126" y="107" width="1" height="21" fill="#ff0000"/><rect x="1125" y="112" width="3" height="15" fill="#ff0000"/><rect x="1130" y="108" width="1" height="12" fill="#00ff00"/><rect x="1129" y="112" width="3" height="6" fill="#00ff00"/><rect x="1134" y="107" width="1" height="54" fill="#00ff00"/><rect x="1133" y="115" width="3" height="45" fill="#00ff00"/><rect x="1138" y="142" width="1" height="34" fill="#00ff00"/><rect x="1137" y="157" width="3" height="15" fill="#00ff00"/><rect x="1142" y="164" width="1" height="22" fill="#00ff00"/><rect x="1141" y="171" width="3" height="10" fill="#00ff00"/><rect x="1146" y="175" width="1" height="26" fill="#00ff00"/><rect x="1145" y="180" width="3" height="6" fill="#00ff00"/><rect x="1150" y="179" width="1" height="27" fill="#00ff00"/><rect x="1149" y="184" width="3" height="20" fill="#00ff00"/><rect x="1154" y="197" width="1" height="7" fill="#ff0000"/><rect x="1153" y="200" width="3" height="4" fill="#ff0000"/><rect x="1158" y="179" width="1" height="25" fill="#ff0000"/><rect x="1157" y="186" width="3" height="12" fill="#ff0000"/><rect x="1162" y="155" width="1" height="36" fill="#ff0000"/><rect x="1161" y="165" width="3" height="22" fill="#ff0000"/><rect x="1166" y="151" width="1" height="27" fill="#ff0000"/><rect x="1165" y="163" width="3" height="4" fill="#ff0000"/><rect x="1170" y="145" width="1" height="21" fill="#ff0000"/><rect x="1169" y="152" width="3" height="13" fill="#ff0000"/><rect x="1174" y="151" width="1" height="23" fill="#00ff00"/><rect x="1173" y="151" width="3" height="18" fill="#00ff00"/><rect x="1178" y="165" width="1" height="4" fill="#ff0000"/><rect x="1177" y="166" width="3" height="3" fill="#ff0000"/><rect x="1182" y="134" width="1" height="34" fill="#ff0000"/><rect x="1181" y="139" width="3" height="28" fill="#ff0000"/><rect x="1186" y="133" width="1" height="15" fill="#00ff00"/><rect x="1185" y="139" width="3" height="5" fill="#00ff00"/><rect x="1190" y="137" width="1" height="26" fill="#00ff00"/><rect x="1189" y="142" width="3" height="6" fill="#00ff00"/><rect x="1194" y="140" width="1" height="21" fill="#00ff00"/><rect x="1193" y="146" width="3" height="6" fill="#00ff00"/><rect x="1198" y="124" width="1" height="30" fill="#ff0000"/><rect x="1197" y="126" width="3" height="27" fill="#ff0000"/><rect x="1202" y="123" width="1" height="7" fill="#ff0000"/><rect x="1201" y="124" width="3" height="5" fill="#ff0000"/><rect x="1206" y="123" width="1" height="18" fill="#00ff00"/><rect x="1205" y="127" width="3" height="6" fill="#00ff00"/><rect x="1210" y="128" width="1" height="32" fill="#00ff00"/><rect x="1209" y="132" width="3" height="26" fill="#00ff00"/><rect x="1214" y="144" width="1" height="22" fill="#ff0000"/><rect x="1213" y="150" width="3" height="9" fill="#ff0000"/><rect x="1218" y="149" width="1" height="28" fill="#00ff00"/><rect x="1217" y="151" width="3" height="21" fill="#00ff00"/><rect x="1222" y="155" width="1" height="22" fill="#ff0000"/><rect x="1221" y="165" width="3" height="7" fill="#ff0000"/><rect x="1226" y="161" width="1" height="7" fill="#ff0000"/><rect x="1225" y="164" width="3" height="3" fill="#ff0000"/><rect x="1230" y="136" width="1" height="33" fill="#ff0000"/><rect x="1229" y="138" width="3" height="30" fill="#ff0000"/><rect x="1234" y="118" width="1" height="32" fill="#ff0000"/><rect x="1233" y="125" width="3" height="15" fill="#ff0000"/><rect x="1238" y="103" width="1" height="25" fill="#ff0000"/><rect x="1237" y="108" width="3" height="20" fill="#ff0000"/><rect x="1242" y="104" width="1" height="27" fill="#00ff00"/><rect x="1241" y="107" width="3" height="21" fill="#00ff00"/><rect x="1246" y="111" width="1" height="29" fill="#ff0000"/><rect x="1245" y="117" width="3" height="9" fill="#ff0000"/><rect x="1250" y="111" width="1" height="11" fill="#ff0000"/><rect x="1249" y="112" width="3" height="7" fill="#ff0000"/><rect x="1254" y="115" width="1" height="17" fill="#00ff00"/><rect x="1253" y="118" width="3" height="13" fill="#00ff00"/><rect x="1258" y="119" width="1" height="18" fill="#ff0000"/><rect x="1257" y="122" width="3" height="7" fill="#ff0000"/><rect x="1262" y="120" width="1" height="45" fill="#00ff00"/><rect x="1261" y="121" width="3" height="32" fill="#00ff00"/><rect x="1266" y="148" width="1" height="41" fill="#00ff00"/><rect x="1265" y="152" width="3" height="35" fill="#00ff00"/><rect x="1270" y="177" width="1" height="14" fill="#ff0000"/><rect x="1269" y="177" width="3" height="11" fill="#ff0000"/><polyline points="2.5,425.21 6.5,423.77 10.5,422.03 14.5,420.03 18.5,417.40 22.5,414.37 26.5,411.29 30.5,408.42 34.5,406.73 38.5,405.16 42.5,404.11 46.5,403.45 50.5,402.95 54.5,402.36 58.5,402.02 62.5,401.90 66.5,401.85 70.5,401.41 74.5,401.21 78.5,400.51 82.5,400.31 86.5,400.67 90.5,401.29 94.5,402.79 98.5,404.22 102.5,406.09 106.5,407.62 110.5,408.89 114.5,410.10 118.5,410.78 122.5,411.41 126.5,411.81 130.5,412.22 134.5,412.65 138.5,413.44 142.5,414.96 146.5,416.34 150.5,417.36 154.5,417.14 158.5,417.06 162.5,416.15 166.5,414.71 170.5,413.45 174.5,412.15 178.5,410.32 182.5,408.87 186.5,407.41 190.5,406.97 194.5,406.80 198.5,406.70 202.5,406.53 206.5,406.29 210.5,406.02 214.5,404.42 218.5,402.42 222.5,400.00 226.5,397.33 230.5,394.59 234.5,392.13 238.5,390.48 242.5,388.56 246.5,387.09 250.5,386.41 254.5,386.03 258.5,385.95 262.5,385.15 266.5,384.28 270.5,383.48 274.5,383.09 278.5,382.21 282.5,382.00 286.5,382.55 290.5,382.90 294.5,383.66 298.5,384.39 302.5,384.98 306.5,385.88 310.5,386.67 314.5,387.16 318.5,388.12 322.5,389.29 326.5,390.34 330.5,391.11 334.5,392.13 338.5,393.32 342.5,395.17 346.5,397.51 350.5,400.19 354.5,403.05 358.5,405.55 362.5,408.34 366.5,411.66 370.5,414.46 374.5,417.24 378.5,420.41 382.5,423.78 386.5,427.32 390.5,431.16 394.5,434.94 398.5,439.48 402.5,443.62 406.5,446.61 410.5,449.48 414.5,452.24 418.5,455.13 422.5,457.74 426.5,458.50 430.5,459.00 434.5,459.01 438.5,457.53 442.5,455.25 446.5,453.51 450.5,451.60 454.5,448.75 458.5,445.86 462.5,441.28 466.5,437.50 470.5,434.00 474.5,432.73 478.5,431.33 482.5,429.76 486.5,427.10 490.5,426.34 494.5,427.15 498.5,428.98 502.5,431.02 506.5,433.32 510.5,434.16 514.5,434.46 518.5,433.92 522.5,431.11 526.5,428.53 530.5,425.26 534.5,423.26 538.5,421.43 542.5,420.62 546.5,422.19 550.5,424.55 554.5,427.28 558.5,431.34 562.5,435.01 566.5,438.45 570.5,441.68 574.5,446.21 578.5,451.07 582.5,457.53 586.5,462.14 590.5,466.80 594.5,469.80 598.5,472.16 602.5,474.71 606.5,477.90 610.5,479.47 614.5,479.49 618.5,478.09 622.5,476.64 626.5,474.88 630.5,474.01 634.5,473.46 638.5,473.21 642.5,474.37 646.5,475.15 650.5,476.99 654.5,478.31 658.5,480.43 662.5,482.02 666.5,482.59 670.5,481.88 674.5,481.52 678.5,481.35 682.5,481.62 686.5,481.97 690.5,483.68 694.5,485.34 698.5,486.84 702.5,486.86 706.5,487.30 710.5,486.39 714.5,485.01 718.5,484.89 722.5,484.50 726.5,484.36 730.5,482.84 734.5,481.15 738.5,477.96 742.5,474.11 746.5,470.31 750.5,466.67 754.5,462.58 758.5,457.66 762.5,452.82 766.5,449.08 770.5,445.14 774.5,440.41 778.5,434.11 782.5,427.23 786.5,420.16 790.5,415.15 794.5,410.28 798.5,404.65 802.5,399.75 806.5,394.94 810.5,389.68 814.5,385.03 818.5,380.35 822.5,375.88 826.5,371.06 830.5,367.47 834.5,364.07 838.5,360.05 842.5,355.97 846.5,351.70 850.5,348.35 854.5,344.69 858.5,342.59 862.5,340.92 866.5,339.13 870.5,336.78 874.5,335.14 878.5,334.14 882.5,334.36 886.5,334.09 890.5,334.00 894.5,333.06 898.5,332.34 902.5,331.71 906.5,331.05 910.5,328.73 914.5,326.19 918.5,323.99 922.5,321.01 926.5,316.45 930.5,311.35 934.5,305.75 938.5,300.10 942.5,293.97 946.5,288.85 950.5,282.58 954.5,275.43 958.5,267.80 962.5,260.76 966.5,254.29 970.5,247.71 974.5,239.70 978.5,231.98 982.5,225.29 986.5,218.53 990.5,212.96 994.5,207.09 998.5,201.21 1002.5,194.76 1006.5,188.29 1010.5,181.50 1014.5,175.19 1018.5,168.65 1022.5,162.49 1026.5,157.12 1030.5,152.89 1034.5,148.47 1038.5,143.99 1042.5,139.95 1046.5,137.14 1050.5,134.65 1054.5,131.30 1058.5,128.17 1062.5,125.68 1066.5,122.97 1070.5,122.13 1074.5,121.68 1078.5,121.73 1082.5,120.93 1086.5,120.11 1090.5,119.85 1094.5,120.96 1098.5,120.63 1102.5,119.72 1106.5,119.01 1110.5,117.51 1114.5,116.43 1118.5,116.00 1122.5,115.98 1126.5,115.69 1130.5,115.63 1134.5,117.33 1138.5,120.20 1142.5,122.96 1146.5,125.43 1150.5,127.41 1154.5,129.46 1158.5,131.25 1162.5,132.50 1166.5,133.59 1170.5,134.48 1174.5,136.89 1178.5,139.04 1182.5,141.09 1186.5,143.24 1190.5,144.15 1194.5,145.08 1198.5,145.07 1202.5,145.38 1206.5,145.53 1210.5,146.14 1214.5,146.79 1218.5,149.03 1222.5,150.67 1226.5,152.15 1230.5,153.22 1234.5,153.59 1238.5,153.14 1242.5,153.16 1246.5,153.32 1250.5,153.17 1254.5,152.19 1258.5,150.57 1262.5,149.64 1266.5,149.68 1270.5,148.83" fill="none" stroke="#0000cd" stroke-width="1" /><polyline points="2.5,399.16 6.5,396.81 10.5,394.76 14.5,392.16 18.5,389.59 22.5,387.48 26.5,386.54 30.5,386.63 34.5,388.41 38.5,390.62 42.5,392.96 46.5,395.05 50.5,397.41 54.5,398.70 58.5,400.16 62.5,402.73 66.5,405.86 70.5,407.78 74.5,410.46 78.5,412.88 82.5,415.17 86.5,417.48 90.5,417.37 94.5,418.50 98.5,419.04 102.5,419.31 106.5,419.51 110.5,420.54 114.5,420.60 118.5,420.05 122.5,419.65 126.5,419.10 130.5,418.38 134.5,418.17 138.5,417.73 142.5,418.12 146.5,418.79 150.5,417.85 154.5,416.08 158.5,414.11 162.5,411.25 166.5,407.53 170.5,404.58 174.5,401.63 178.5,397.82 182.5,396.44 186.5,395.54 190.5,395.59 194.5,396.21 198.5,395.18 202.5,394.14 206.5,393.78 210.5,393.56 214.5,391.41 218.5,389.62 222.5,387.79 226.5,384.97 230.5,382.91 234.5,381.61 238.5,380.63 242.5,379.24 246.5,376.51 250.5,374.68 254.5,373.87 258.5,373.62 262.5,372.82 266.5,372.19 270.5,373.00 274.5,374.65 278.5,376.00 282.5,378.41 286.5,381.72 290.5,384.81 294.5,387.02 298.5,388.89 302.5,391.92 306.5,394.43 310.5,396.95 314.5,398.82 318.5,401.55 322.5,404.88 326.5,408.47 330.5,410.76 334.5,412.67 338.5,413.87 342.5,414.85 346.5,416.28 350.5,418.33 354.5,421.59 358.5,424.70 362.5,427.35 366.5,430.07 370.5,433.17 374.5,436.27 378.5,440.31 382.5,444.46 386.5,449.78 390.5,456.63 394.5,463.85 398.5,470.94 402.5,477.21 406.5,481.19 410.5,484.32 414.5,487.07 418.5,489.17 422.5,490.66 426.5,488.80 430.5,486.44 434.5,481.54 438.5,473.89 442.5,464.73 446.5,456.37 450.5,446.46 454.5,432.54 458.5,418.68 462.5,403.44 466.5,390.60 470.5,379.24 474.5,373.59 478.5,368.11 482.5,365.76 486.5,361.71 490.5,363.15 494.5,371.16 498.5,384.01 502.5,396.27 506.5,410.60 510.5,425.36 514.5,439.42 518.5,455.16 522.5,463.52 526.5,469.47 530.5,468.31 534.5,469.77 538.5,471.32 542.5,476.78 546.5,479.91 550.5,480.88 554.5,477.90 558.5,474.56 562.5,468.37 566.5,465.58 570.5,461.93 574.5,458.88 578.5,461.44 582.5,465.59 586.5,469.63 590.5,472.54 594.5,477.24 598.5,478.55 602.5,478.32 606.5,476.02 610.5,474.98 614.5,474.34 618.5,476.31 622.5,478.09 626.5,481.74 630.5,484.92 634.5,487.40 638.5,488.75 642.5,489.73 646.5,487.35 650.5,483.71 654.5,482.95 658.5,483.56 662.5,485.62 666.5,486.61 670.5,486.01 674.5,485.25 678.5,484.67 682.5,482.81 686.5,482.65 690.5,483.83 694.5,484.87 698.5,488.17 702.5,490.69 706.5,491.72 710.5,489.84 714.5,487.06 718.5,484.70 722.5,482.40 726.5,481.32 730.5,477.82 734.5,473.90 738.5,468.47 742.5,461.24 746.5,453.11 750.5,444.91 754.5,435.42 758.5,426.17 762.5,415.84 766.5,407.42 770.5,398.28 774.5,387.63 778.5,375.59 782.5,363.19 786.5,352.28 790.5,344.60 794.5,340.21 798.5,335.83 802.5,331.60 806.5,328.94 810.5,327.60 814.5,329.24 818.5,332.89 822.5,333.83 826.5,332.97 830.5,333.54 834.5,336.98 838.5,340.76 842.5,344.86 846.5,345.35 850.5,345.13 854.5,345.41 858.5,345.99 862.5,345.48 866.5,344.79 870.5,341.51 874.5,338.54 878.5,336.74 882.5,337.21 886.5,335.90 890.5,333.85 894.5,329.79 898.5,324.94 902.5,320.35 906.5,315.19 910.5,310.40 914.5,305.06 918.5,299.55 922.5,292.78 926.5,285.38 930.5,276.62 934.5,268.42 938.5,259.47 942.5,247.85 946.5,236.22 950.5,225.37 954.5,215.04 958.5,203.82 962.5,194.26 966.5,185.83 970.5,176.94 974.5,164.80 978.5,155.20 982.5,150.15 986.5,145.89 990.5,142.67 994.5,139.23 998.5,137.96 1002.5,135.58 1006.5,133.85 1010.5,132.56 1014.5,131.34 1018.5,127.55 1022.5,123.63 1026.5,121.08 1030.5,124.37 1034.5,126.11 1038.5,125.33 1042.5,124.40 1046.5,122.91 1050.5,121.40 1054.5,118.60 1058.5,116.78 1062.5,113.68 1066.5,110.82 1070.5,111.66 1074.5,114.40 1078.5,116.48 1082.5,116.72 1086.5,115.60 1090.5,115.62 1094.5,115.46 1098.5,113.80 1102.5,112.81 1106.5,112.36 1110.5,113.13 1114.5,114.06 1118.5,117.22 1122.5,120.60 1126.5,120.05 1130.5,119.60 1134.5,121.92 1138.5,125.98 1142.5,129.73 1146.5,133.02 1150.5,138.18 1154.5,145.02 1158.5,150.03 1162.5,153.31 1166.5,157.38 1170.5,160.07 1174.5,163.36 1178.5,166.20 1182.5,168.12 1186.5,169.98 1190.5,169.15 1194.5,167.72 1198.5,163.85 1202.5,159.48 1206.5,154.43 1210.5,151.36 1214.5,148.76 1218.5,149.22 1222.5,149.40 1226.5,150.23 1230.5,148.10 1234.5,145.23 1238.5,143.03 1242.5,141.85 1246.5,139.71 1250.5,136.92 1254.5,137.19 1258.5,137.09 1262.5,138.54 1266.5,140.60 1270.5,142.57" fill="none" stroke="#ff0000" stroke-width="1" /><polyline points="2.5,397.69 6.5,399.80 10.5,398.41 14.5,397.09 18.5,391.58 22.5,383.59 26.5,379.23 30.5,376.63 34.5,380.39 38.5,386.37 42.5,395.90 46.5,406.55 50.5,416.59 54.5,419.43 58.5,424.40 62.5,427.14 66.5,428.66 70.5,426.13 74.5,424.50 78.5,419.23 82.5,414.06 86.5,409.19 90.5,407.26 94.5,408.88 98.5,413.14 102.5,418.16 106.5,422.27 110.5,428.29 114.5,430.29 118.5,429.97 122.5,429.60 126.5,424.96 130.5,418.45 134.5,412.43 138.5,407.54 142.5,404.91 146.5,406.42 150.5,407.42 154.5,407.29 158.5,408.05 162.5,403.03 166.5,396.77 170.5,393.13 174.5,389.50 178.5,383.98 182.5,383.48 186.5,384.86 190.5,387.24 194.5,392.38 198.5,397.52 202.5,399.98 206.5,402.49 210.5,401.61 214.5,394.60 218.5,387.46 222.5,378.98 226.5,368.46 230.5,359.69 234.5,356.55 238.5,358.31 242.5,360.94 246.5,363.57 250.5,369.34 254.5,375.85 258.5,380.36 262.5,384.50 266.5,389.51 270.5,389.89 274.5,389.64 278.5,385.63 282.5,384.12 286.5,386.38 290.5,389.64 294.5,392.93 298.5,397.06 302.5,401.38 306.5,404.90 310.5,409.84 314.5,413.41 318.5,419.92 322.5,425.81 326.5,429.22 330.5,428.29 334.5,424.42 338.5,418.62 342.5,414.28 346.5,411.49 350.5,414.12 354.5,422.03 358.5,431.71 362.5,439.92 366.5,448.45 370.5,454.96 374.5,461.01 378.5,469.53 382.5,477.13 386.5,483.49 390.5,490.10 394.5,495.86 398.5,500.04 402.5,503.17 406.5,502.08 410.5,499.57 414.5,496.70 418.5,490.97 422.5,486.13 426.5,476.27 430.5,466.95 434.5,454.05 438.5,434.34 442.5,410.88 446.5,399.30 450.5,383.90 454.5,362.84 458.5,348.59 462.5,330.45 466.5,315.42 470.5,308.50 474.5,325.92 478.5,344.53 482.5,370.79 486.5,386.06 490.5,409.00 494.5,427.53 498.5,455.39 502.5,484.71 506.5,520.77 510.5,537.03 514.5,539.73 518.5,529.69 522.5,503.73 526.5,473.36 530.5,446.17 534.5,429.52 538.5,416.02 542.5,423.19 546.5,438.22 550.5,462.72 554.5,478.14 558.5,493.80 562.5,497.21 566.5,496.90 570.5,486.67 574.5,476.43 578.5,466.98 582.5,465.58 586.5,457.52 590.5,459.22 594.5,467.44 598.5,471.09 602.5,473.87 606.5,480.61 610.5,484.99 614.5,485.67 618.5,490.96 622.5,496.25 626.5,502.69 630.5,504.26 634.5,503.55 638.5,500.40 642.5,490.10 646.5,474.94 650.5,464.06 654.5,458.63 658.5,459.34 662.5,469.11 666.5,482.90 670.5,492.10 674.5,497.41 678.5,499.35 682.5,494.82 686.5,493.17 690.5,497.43 694.5,499.35 698.5,499.90 702.5,497.02 706.5,489.47 710.5,475.47 714.5,465.45 718.5,459.41 722.5,459.68 726.5,462.98 730.5,463.74 734.5,462.50 738.5,449.38 742.5,433.94 746.5,418.42 750.5,407.21 754.5,392.17 758.5,378.57 762.5,362.34 766.5,347.54 770.5,334.89 774.5,325.58 778.5,318.05 782.5,315.56 786.5,309.35 790.5,312.18 794.5,316.60 798.5,322.61 802.5,329.97 806.5,341.87 810.5,344.59 814.5,347.88 818.5,354.11 822.5,353.77 826.5,346.18 830.5,342.21 834.5,339.72 838.5,337.61 842.5,340.25 846.5,346.84 850.5,349.04 854.5,346.20 858.5,344.61 862.5,343.61 866.5,343.02 870.5,337.76 874.5,334.87 878.5,327.86 882.5,323.02 886.5,317.30 890.5,318.25 894.5,313.13 898.5,307.22 902.5,299.62 906.5,291.07 910.5,280.54 914.5,275.37 918.5,272.51 922.5,265.82 926.5,254.28 930.5,240.30 934.5,225.25 938.5,210.80 942.5,191.50 946.5,180.61 950.5,169.62 954.5,157.75 958.5,143.80 962.5,141.01 966.5,139.46 970.5,139.77 974.5,131.86 978.5,129.69 982.5,130.78 986.5,128.45 990.5,129.29 994.5,139.19 998.5,143.25 1002.5,139.83 1006.5,135.90 1010.5,129.45 1014.5,121.72 1018.5,111.84 1022.5,105.97 1026.5,104.01 1030.5,108.91 1034.5,115.04 1038.5,124.57 1042.5,130.61 1046.5,134.42 1050.5,130.87 1054.5,122.21 1058.5,115.91 1062.5,105.90 1066.5,95.61 1070.5,94.47 1074.5,100.08 1078.5,105.11 1082.5,112.51 1086.5,122.29 1090.5,126.11 1094.5,127.54 1098.5,123.12 1102.5,123.48 1106.5,121.81 1110.5,115.23 1114.5,111.98 1118.5,115.48 1122.5,117.41 1126.5,116.01 1130.5,118.20 1134.5,127.13 1138.5,137.02 1142.5,147.86 1146.5,162.42 1150.5,179.58 1154.5,187.82 1158.5,190.84 1162.5,187.82 1166.5,183.43 1170.5,173.26 1174.5,166.81 1178.5,162.69 1182.5,157.47 1186.5,153.49 1190.5,152.53 1194.5,149.24 1198.5,141.27 1202.5,138.25 1206.5,136.04 1210.5,138.03 1214.5,137.75 1218.5,146.86 1222.5,155.18 1226.5,161.51 1230.5,157.69 1234.5,152.79 1238.5,140.13 1242.5,132.37 1246.5,123.06 1250.5,117.93 1254.5,118.76 1258.5,121.63 1262.5,126.76 1266.5,140.54 1270.5,153.56" fill="none" stroke="#ffa500" stroke-width="1" /><rect x="6" y="56" width="1592" height="2" fill="#ff0000"/><rect x="5" y="54" width="6" height="6" fill="#ff0000"/><rect x="7" y="56" width="2" height="2" fill="#fff"/><rect x="1592" y="54" width="6" height="6" fill="#ff0000"/><rect x="1594" y="56" width="2" height="2" fill="#fff"/><rect x="6" y="94" width="1592" height="2" fill="#ff0000"/><rect x="5" y="92" width="6" height="6" fill="#ff0000"/><rect x="7" y="94" width="2" height="2" fill="#fff"/><rect x="1592" y="92" width="6" height="6" fill="#ff0000"/><rect x="1594" y="94" width="2" height="2" fill="#fff"/><rect x="6" y="131" width="1592" height="2" fill="#00ff00"/><rect x="5" y="129" width="6" height="6" fill="#00ff00"/><rect x="7" y="131" width="2" height="2" fill="#fff"/><rect x="1592" y="129" width="6" height="6" fill="#00ff00"/><rect x="1594" y="131" width="2" height="2" fill="#fff"/><rect x="6" y="169" width="1592" height="2" fill="#0000ff"/><rect x="5" y="167" width="6" height="6" fill="#0000ff"/><rect x="7" y="169" width="2" height="2" fill="#fff"/><rect x="1592" y="167" width="6" height="6" fill="#0000ff"/><rect x="1594" y="169" width="2" height="2" fill="#fff"/><rect x="6" y="207" width="1592" height="2" fill="#0000ff"/><rect x="5" y="205" width="6" height="6" fill="#0000ff"/><rect x="7" y="207" width="2" height="2" fill="#fff"/><rect x="1592" y="205" width="6" height="6" fill="#0000ff"/><rect x="1594" y="207" width="2" height="2" fill="#fff"/></g><rect x="5" y="54" width="6" height="6" fill="#ff0000"/><rect x="7" y="56" width="2" height="2" fill="#fff"/><rect x="5" y="92" width="6" height="6" fill="#ff0000"/><rect x="7" y="94" width="2" height="2" fill="#fff"/><rect x="5" y="129" width="6" height="6" fill="#00ff00"/><rect x="7" y="131" width="2" height="2" fill="#fff"/><rect x="5" y="167" width="6" height="6" fill="#0000ff"/><rect x="7" y="169" width="2" height="2" fill="#fff"/><rect x="5" y="205" width="6" height="6" fill="#0000ff"/><rect x="7" y="207" width="2" height="2" fill="#fff"/><g clip-path="url(#cr)" shape-rendering="crispEdges"><line x1="7" y1="616.5" x2="1598" y2="616.5" stroke="#c0c0c0" stroke-width="1" stroke-dasharray="3,3"/><line x1="7" y1="656.5" x2="1598" y2="656.5" stroke="#c0c0c0" stroke-width="1" stroke-dasharray="3,3"/><polyline points="2.5,635.97 6.5,628.97 10.5,626.95 14.5,625.97 18.5,621.04 22.5,619.10 26.5,621.59 30.5,624.41 34.5,640.13 38.5,639.39 42.5,644.43 46.5,647.78 50.5,648.14 54.5,644.32 58.5,647.89 62.5,648.28 66.5,649.47 70.5,638.38 74.5,637.37 78.5,632.96 82.5,633.78 86.5,636.27 90.5,633.86 94.5,641.86 98.5,643.67 102.5,645.99 106.5,645.99 110.5,648.25 114.5,645.16 118.5,640.21 122.5,642.85 126.5,631.16 130.5,629.20 134.5,628.35 138.5,627.47 142.5,637.13 146.5,636.79 150.5,633.08 154.5,629.36 158.5,630.95 162.5,625.15 166.5,622.38 170.5,626.58 174.5,623.45 178.5,620.80 182.5,628.89 186.5,630.37 190.5,636.61 194.5,639.73 198.5,636.07 202.5,635.61 206.5,637.17 210.5,633.96 214.5,623.14 218.5,620.57 222.5,618.18 226.5,615.95 230.5,618.11 234.5,620.71 238.5,630.95 242.5,629.62 246.5,626.50 250.5,636.27 254.5,639.56 258.5,642.41 262.5,639.87 266.5,638.29 270.5,636.07 274.5,638.29 278.5,632.38 282.5,636.28 286.5,643.27 290.5,643.53 294.5,645.45 298.5,641.00 302.5,644.73 306.5,649.23 310.5,651.90 314.5,650.42 318.5,652.88 322.5,654.69 326.5,654.13 330.5,644.82 334.5,635.86 338.5,634.64 342.5,640.58 346.5,643.49 350.5,648.40 354.5,651.45 358.5,653.35 362.5,654.96 366.5,657.36 370.5,658.20 374.5,660.06 378.5,664.24 382.5,664.40 386.5,664.89 390.5,665.83 394.5,666.40 398.5,668.55 402.5,664.79 406.5,651.37 410.5,649.70 414.5,650.04 418.5,647.63 422.5,647.63 426.5,626.23 430.5,626.23 434.5,620.83 438.5,612.44 442.5,609.43 446.5,616.65 450.5,613.32 454.5,607.41 458.5,607.03 462.5,603.45 466.5,614.44 470.5,620.91 474.5,637.70 478.5,638.11 482.5,638.11 486.5,633.46 490.5,643.84 494.5,650.69 498.5,655.52 502.5,656.18 506.5,657.09 510.5,649.08 514.5,646.55 518.5,643.84 522.5,632.76 526.5,631.18 530.5,628.27 534.5,634.43 538.5,634.60 542.5,639.17 546.5,642.80 550.5,645.78 554.5,644.68 558.5,644.99 562.5,639.46 566.5,640.78 570.5,636.29 574.5,635.24 578.5,636.38 582.5,638.26 586.5,633.58 590.5,638.00 594.5,642.49 598.5,639.18 602.5,640.19 606.5,639.13 610.5,641.33 614.5,642.84 618.5,644.08 622.5,645.21 626.5,645.36 630.5,641.55 634.5,640.51 638.5,638.80 642.5,630.87 646.5,625.82 650.5,628.41 654.5,634.92 658.5,640.78 662.5,643.94 666.5,642.99 670.5,639.06 674.5,640.06 678.5,642.06 682.5,637.15 686.5,639.99 690.5,643.63 694.5,641.32 698.5,641.67 702.5,632.04 706.5,629.15 710.5,625.45 714.5,629.30 718.5,635.28 722.5,634.58 726.5,635.37 730.5,627.99 734.5,628.74 738.5,621.09 742.5,618.74 746.5,619.55 750.5,618.11 754.5,615.40 758.5,611.17 762.5,608.15 766.5,611.58 770.5,612.46 774.5,612.46 778.5,609.57 782.5,609.29 786.5,608.15 790.5,625.35 794.5,627.66 798.5,624.87 802.5,626.28 806.5,630.42 810.5,630.94 814.5,634.21 818.5,634.38 822.5,627.11 826.5,622.41 830.5,628.71 834.5,633.81 838.5,634.49 842.5,633.29 846.5,632.51 850.5,631.92 854.5,629.89 858.5,633.07 862.5,632.54 866.5,632.26 870.5,624.63 874.5,626.63 878.5,623.43 882.5,627.38 886.5,625.86 890.5,629.29 894.5,622.22 898.5,618.69 902.5,619.03 906.5,616.83 910.5,616.40 914.5,617.02 918.5,616.01 922.5,611.99 926.5,606.52 930.5,604.77 934.5,604.28 938.5,604.14 942.5,599.90 946.5,603.79 950.5,602.33 954.5,601.54 958.5,600.52 962.5,607.13 966.5,613.52 970.5,612.64 974.5,606.28 978.5,612.91 982.5,622.71 986.5,622.17 990.5,625.45 994.5,624.59 998.5,622.17 1002.5,620.66 1006.5,619.57 1010.5,619.15 1014.5,617.04 1018.5,613.11 1022.5,618.16 1026.5,623.44 1030.5,633.69 1034.5,632.54 1038.5,631.04 1042.5,629.69 1046.5,630.60 1050.5,629.30 1054.5,621.93 1058.5,624.19 1062.5,619.23 1066.5,619.70 1070.5,633.60 1074.5,634.61 1078.5,635.49 1082.5,632.17 1086.5,636.20 1090.5,639.45 1094.5,636.87 1098.5,629.73 1102.5,633.42 1106.5,634.33 1110.5,630.71 1114.5,633.41 1118.5,635.83 1122.5,637.15 1126.5,632.81 1130.5,634.49 1134.5,646.28 1138.5,648.99 1142.5,650.85 1146.5,651.85 1150.5,655.34 1154.5,654.21 1158.5,648.71 1162.5,641.28 1166.5,640.61 1170.5,637.04 1174.5,641.62 1178.5,640.92 1182.5,632.62 1186.5,633.95 1190.5,635.31 1194.5,636.69 1198.5,629.05 1202.5,628.49 1206.5,631.57 1210.5,639.77 1214.5,637.43 1218.5,643.53 1222.5,641.49 1226.5,640.86 1230.5,632.69 1234.5,629.31 1238.5,625.11 1242.5,631.34 1246.5,628.95 1250.5,627.76 1254.5,633.54 1258.5,631.57 1262.5,640.28 1266.5,647.75 1270.5,645.14" fill="none" stroke="#1e90ff" stroke-width="1" /></g><g clip-path="url(#cd)" shape-rendering="crispEdges"><rect x="6" y="742" width="1" height="11" fill="#c0c0c0"/><rect x="10" y="742" width="1" height="11" fill="#c0c0c0"/><rect x="14" y="741" width="1" height="12" fill="#c0c0c0"/><rect x="18" y="740" width="1" height="13" fill="#c0c0c0"/><rect x="22" y="739" width="1" height="14" fill="#c0c0c0"/><rect x="26" y="738" width="1" height="15" fill="#c0c0c0"/><rect x="30" y="738" width="1" height="15" fill="#c0c0c0"/><rect x="34" y="741" width="1" height="12" fill="#c0c0c0"/><rect x="38" y="744" width="1" height="9" fill="#c0c0c0"/><rect x="42" y="746" width="1" height="7" fill="#c0c0c0"/><rect x="46" y="750" width="1" height="3" fill="#c0c0c0"/><rect x="50" y="752" width="1" height="1" fill="#c0c0c0"/><rect x="54" y="752" width="1" height="3" fill="#c0c0c0"/><rect x="58" y="752" width="1" height="5" fill="#c0c0c0"/><rect x="62" y="752" width="1" height="6" fill="#c0c0c0"/><rect x="66" y="752" width="1" height="8" fill="#c0c0c0"/><rect x="70" y="752" width="1" height="7" fill="#c0c0c0"/><rect x="74" y="752" width="1" height="6" fill="#c0c0c0"/><rect x="78" y="752" width="1" height="5" fill="#c0c0c0"/><rect x="82" y="752" width="1" height="4" fill="#c0c0c0"/><rect x="86" y="752" width="1" height="3" fill="#c0c0c0"/><rect x="90" y="752" width="1" height="2" fill="#c0c0c0"/><rect x="94" y="752" width="1" height="3" fill="#c0c0c0"/><rect x="98" y="752" width="1" height="4" fill="#c0c0c0"/><rect x="102" y="752" width="1" height="5" fill="#c0c0c0"/><rect x="106" y="752" width="1" height="6" fill="#c0c0c0"/><rect x="110" y="752" width="1" height="7" fill="#c0c0c0"/><rect x="114" y="752" width="1" height="8" fill="#c0c0c0"/><rect x="118" y="752" width="1" height="7" fill="#c0c0c0"/><rect x="122" y="752" width="1" height="7" fill="#c0c0c0"/><rect x="126" y="752" width="1" height="5" fill="#c0c0c0"/><rect x="130" y="752" width="1" height="3" fill="#c0c0c0"/><rect x="134" y="752" width="1" height="1" fill="#c0c0c0"/><rect x="138" y="751" width="1" height="2" fill="#c0c0c0"/><rect x="142" y="751" width="1" height="2" fill="#c0c0c0"/><rect x="146" y="751" width="1" height="2" fill="#c0c0c0"/><rect x="150" y="751" width="1" height="2" fill="#c0c0c0"/><rect x="154" y="750" width="1" height="3" fill="#c0c0c0"/><rect x="158" y="749" width="1" height="4" fill="#c0c0c0"/><rect x="162" y="748" width="1" height="5" fill="#c0c0c0"/><rect x="166" y="746" width="1" height="7" fill="#c0c0c0"/><rect x="170" y="745" width="1" height="8" fill="#c0c0c0"/><rect x="174" y="744" width="1" height="9" fill="#c0c0c0"/><rect x="178" y="742" width="1" height="11" fill="#c0c0c0"/><rect x="182" y="742" width="1" height="11" fill="#c0c0c0"/><rect x="186" y="743" width="1" height="10" fill="#c0c0c0"/><rect x="190" y="744" width="1" height="9" fill="#c0c0c0"/><rect x="194" y="746" width="1" height="7" fill="#c0c0c0"/><rect x="198" y="747" width="1" height="6" fill="#c0c0c0"/><rect x="202" y="747" width="1" height="6" fill="#c0c0c0"/><rect x="206" y="748" width="1" height="5" fill="#c0c0c0"/><rect x="210" y="748" width="1" height="5" fill="#c0c0c0"/><rect x="214" y="746" width="1" height="7" fill="#c0c0c0"/><rect x="218" y="744" width="1" height="9" fill="#c0c0c0"/><rect x="222" y="742" width="1" height="11" fill="#c0c0c0"/><rect x="226" y="739" width="1" height="14" fill="#c0c0c0"/><rect x="230" y="738" width="1" height="15" fill="#c0c0c0"/><rect x="234" y="737" width="1" height="16" fill="#c0c0c0"/><rect x="238" y="739" width="1" height="14" fill="#c0c0c0"/><rect x="242" y="739" width="1" height="14" fill="#c0c0c0"/><rect x="246" y="739" width="1" height="14" fill="#c0c0c0"/><rect x="250" y="741" width="1" height="12" fill="#c0c0c0"/><rect x="254" y="744" width="1" height="9" fill="#c0c0c0"/><rect x="258" y="746" width="1" height="7" fill="#c0c0c0"/><rect x="262" y="748" width="1" height="5" fill="#c0c0c0"/><rect x="266" y="749" width="1" height="4" fill="#c0c0c0"/><rect x="270" y="749" width="1" height="4" fill="#c0c0c0"/><rect x="274" y="750" width="1" height="3" fill="#c0c0c0"/><rect x="278" y="749" width="1" height="4" fill="#c0c0c0"/><rect x="282" y="750" width="1" height="3" fill="#c0c0c0"/><rect x="286" y="751" width="1" height="2" fill="#c0c0c0"/><rect x="290" y="752" width="1" height="2" fill="#c0c0c0"/><rect x="294" y="752" width="1" height="3" fill="#c0c0c0"/><rect x="298" y="752" width="1" height="4" fill="#c0c0c0"/><rect x="302" y="752" width="1" height="5" fill="#c0c0c0"/><rect x="306" y="752" width="1" height="7" fill="#c0c0c0"/><rect x="310" y="752" width="1" height="9" fill="#c0c0c0"/><rect x="314" y="752" width="1" height="10" fill="#c0c0c0"/><rect x="318" y="752" width="1" height="12" fill="#c0c0c0"/><rect x="322" y="752" width="1" height="13" fill="#c0c0c0"/><rect x="326" y="752" width="1" height="14" fill="#c0c0c0"/><rect x="330" y="752" width="1" height="14" fill="#c0c0c0"/><rect x="334" y="752" width="1" height="12" fill="#c0c0c0"/><rect x="338" y="752" width="1" height="10" fill="#c0c0c0"/><rect x="342" y="752" width="1" height="9" fill="#c0c0c0"/><rect x="346" y="752" width="1" height="9" fill="#c0c0c0"/><rect x="350" y="752" width="1" height="10" fill="#c0c0c0"/><rect x="354" y="752" width="1" height="12" fill="#c0c0c0"/><rect x="358" y="752" width="1" height="14" fill="#c0c0c0"/><rect x="362" y="752" width="1" height="15" fill="#c0c0c0"/><rect x="366" y="752" width="1" height="17" fill="#c0c0c0"/><rect x="370" y="752" width="1" height="19" fill="#c0c0c0"/><rect x="374" y="752" width="1" height="20" fill="#c0c0c0"/><rect x="378" y="752" width="1" height="23" fill="#c0c0c0"/><rect x="382" y="752" width="1" height="25" fill="#c0c0c0"/><rect x="386" y="752" width="1" height="27" fill="#c0c0c0"/><rect x="390" y="752" width="1" height="28" fill="#c0c0c0"/><rect x="394" y="752" width="1" height="29" fill="#c0c0c0"/><rect x="398" y="752" width="1" height="30" fill="#c0c0c0"/><rect x="402" y="752" width="1" height="31" fill="#c0c0c0"/><rect x="406" y="752" width="1" height="29" fill="#c0c0c0"/><rect x="410" y="752" width="1" height="27" fill="#c0c0c0"/><rect x="414" y="752" width="1" height="25" fill="#c0c0c0"/><rect x="418" y="752" width="1" height="23" fill="#c0c0c0"/><rect x="422" y="752" width="1" height="21" fill="#c0c0c0"/><rect x="426" y="752" width="1" height="16" fill="#c0c0c0"/><rect x="430" y="752" width="1" height="11" fill="#c0c0c0"/><rect x="434" y="752" width="1" height="6" fill="#c0c0c0"/><rect x="438" y="749" width="1" height="4" fill="#c0c0c0"/><rect x="442" y="742" width="1" height="11" fill="#c0c0c0"/><rect x="446" y="737" width="1" height="16" fill="#c0c0c0"/><rect x="450" y="732" width="1" height="21" fill="#c0c0c0"/><rect x="454" y="725" width="1" height="28" fill="#c0c0c0"/><rect x="458" y="719" width="1" height="34" fill="#c0c0c0"/><rect x="462" y="711" width="1" height="42" fill="#c0c0c0"/><rect x="466" y="708" width="1" height="45" fill="#c0c0c0"/><rect x="470" y="708" width="1" height="45" fill="#c0c0c0"/><rect x="474" y="715" width="1" height="38" fill="#c0c0c0"/><rect x="478" y="722" width="1" height="31" fill="#c0c0c0"/><rect x="482" y="727" width="1" height="26" fill="#c0c0c0"/><rect x="486" y="730" width="1" height="23" fill="#c0c0c0"/><rect x="490" y="737" width="1" height="16" fill="#c0c0c0"/><rect x="494" y="748" width="1" height="5" fill="#c0c0c0"/><rect x="498" y="752" width="1" height="10" fill="#c0c0c0"/><rect x="502" y="752" width="1" height="21" fill="#c0c0c0"/><rect x="506" y="752" width="1" height="30" fill="#c0c0c0"/><rect x="510" y="752" width="1" height="33" fill="#c0c0c0"/><rect x="514" y="752" width="1" height="34" fill="#c0c0c0"/><rect x="518" y="752" width="1" height="33" fill="#c0c0c0"/><rect x="522" y="752" width="1" height="26" fill="#c0c0c0"/><rect x="526" y="752" width="1" height="18" fill="#c0c0c0"/><rect x="530" y="752" width="1" height="10" fill="#c0c0c0"/><rect x="534" y="752" width="1" height="7" fill="#c0c0c0"/><rect x="538" y="752" width="1" height="5" fill="#c0c0c0"/><rect x="542" y="752" width="1" height="6" fill="#c0c0c0"/><rect x="546" y="752" width="1" height="9" fill="#c0c0c0"/><rect x="550" y="752" width="1" height="14" fill="#c0c0c0"/><rect x="554" y="752" width="1" height="17" fill="#c0c0c0"/><rect x="558" y="752" width="1" height="19" fill="#c0c0c0"/><rect x="562" y="752" width="1" height="18" fill="#c0c0c0"/><rect x="566" y="752" width="1" height="17" fill="#c0c0c0"/><rect x="570" y="752" width="1" height="15" fill="#c0c0c0"/><rect x="574" y="752" width="1" height="12" fill="#c0c0c0"/><rect x="578" y="752" width="1" height="10" fill="#c0c0c0"/><rect x="582" y="752" width="1" height="9" fill="#c0c0c0"/><rect x="586" y="752" width="1" height="7" fill="#c0c0c0"/><rect x="590" y="752" width="1" height="6" fill="#c0c0c0"/><rect x="594" y="752" width="1" height="9" fill="#c0c0c0"/><rect x="598" y="752" width="1" height="9" fill="#c0c0c0"/><rect x="602" y="752" width="1" height="9" fill="#c0c0c0"/><rect x="606" y="752" width="1" height="9" fill="#c0c0c0"/><rect x="610" y="752" width="1" height="10" fill="#c0c0c0"/><rect x="614" y="752" width="1" height="11" fill="#c0c0c0"/><rect x="618" y="752" width="1" height="13" fill="#c0c0c0"/><rect x="622" y="752" width="1" height="14" fill="#c0c0c0"/><rect x="626" y="752" width="1" height="15" fill="#c0c0c0"/><rect x="630" y="752" width="1" height="15" fill="#c0c0c0"/><rect x="634" y="752" width="1" height="14" fill="#c0c0c0"/><rect x="638" y="752" width="1" height="13" fill="#c0c0c0"/><rect x="642" y="752" width="1" height="9" fill="#c0c0c0"/><rect x="646" y="752" width="1" height="3" fill="#c0c0c0"/><rect x="650" y="751" width="1" height="2" fill="#c0c0c0"/><rect x="654" y="751" width="1" height="2" fill="#c0c0c0"/><rect x="658" y="752" width="1" height="1" fill="#c0c0c0"/><rect x="662" y="752" width="1" height="4" fill="#c0c0c0"/><rect x="666" y="752" width="1" height="6" fill="#c0c0c0"/><rect x="670" y="752" width="1" height="6" fill="#c0c0c0"/><rect x="674" y="752" width="1" height="7" fill="#c0c0c0"/><rect x="678" y="752" width="1" height="8" fill="#c0c0c0"/><rect x="682" y="752" width="1" height="7" fill="#c0c0c0"/><rect x="686" y="752" width="1" height="7" fill="#c0c0c0"/><rect x="690" y="752" width="1" height="8" fill="#c0c0c0"/><rect x="694" y="752" width="1" height="9" fill="#c0c0c0"/><rect x="698" y="752" width="1" height="9" fill="#c0c0c0"/><rect x="702" y="752" width="1" height="6" fill="#c0c0c0"/><rect x="706" y="752" width="1" height="3" fill="#c0c0c0"/><rect x="710" y="750" width="1" height="3" fill="#c0c0c0"/><rect x="714" y="747" width="1" height="6" fill="#c0c0c0"/><rect x="718" y="748" width="1" height="5" fill="#c0c0c0"/><rect x="722" y="748" width="1" height="5" fill="#c0c0c0"/><rect x="726" y="748" width="1" height="5" fill="#c0c0c0"/><rect x="730" y="745" width="1" height="8" fill="#c0c0c0"/><rect x="734" y="744" width="1" height="9" fill="#c0c0c0"/><rect x="738" y="739" width="1" height="14" fill="#c0c0c0"/><rect x="742" y="734" width="1" height="19" fill="#c0c0c0"/><rect x="746" y="731" width="1" height="22" fill="#c0c0c0"/><rect x="750" y="728" width="1" height="25" fill="#c0c0c0"/><rect x="754" y="724" width="1" height="29" fill="#c0c0c0"/><rect x="758" y="719" width="1" height="34" fill="#c0c0c0"/><rect x="762" y="713" width="1" height="40" fill="#c0c0c0"/><rect x="766" y="709" width="1" height="44" fill="#c0c0c0"/><rect x="770" y="707" width="1" height="46" fill="#c0c0c0"/><rect x="774" y="706" width="1" height="47" fill="#c0c0c0"/><rect x="778" y="703" width="1" height="50" fill="#c0c0c0"/><rect x="782" y="702" width="1" height="51" fill="#c0c0c0"/><rect x="786" y="700" width="1" height="53" fill="#c0c0c0"/><rect x="790" y="704" width="1" height="49" fill="#c0c0c0"/><rect x="794" y="708" width="1" height="45" fill="#c0c0c0"/><rect x="798" y="711" width="1" height="42" fill="#c0c0c0"/><rect x="802" y="714" width="1" height="39" fill="#c0c0c0"/><rect x="806" y="718" width="1" height="35" fill="#c0c0c0"/><rect x="810" y="721" width="1" height="32" fill="#c0c0c0"/><rect x="814" y="725" width="1" height="28" fill="#c0c0c0"/><rect x="818" y="729" width="1" height="24" fill="#c0c0c0"/><rect x="822" y="729" width="1" height="24" fill="#c0c0c0"/><rect x="826" y="728" width="1" height="25" fill="#c0c0c0"/><rect x="830" y="729" width="1" height="24" fill="#c0c0c0"/><rect x="834" y="732" width="1" height="21" fill="#c0c0c0"/><rect x="838" y="734" width="1" height="19" fill="#c0c0c0"/><rect x="842" y="736" width="1" height="17" fill="#c0c0c0"/><rect x="846" y="737" width="1" height="16" fill="#c0c0c0"/><rect x="850" y="738" width="1" height="15" fill="#c0c0c0"/><rect x="854" y="739" width="1" height="14" fill="#c0c0c0"/><rect x="858" y="740" width="1" height="13" fill="#c0c0c0"/><rect x="862" y="741" width="1" height="12" fill="#c0c0c0"/><rect x="866" y="741" width="1" height="12" fill="#c0c0c0"/><rect x="870" y="740" width="1" height="13" fill="#c0c0c0"/><rect x="874" y="739" width="1" height="14" fill="#c0c0c0"/><rect x="878" y="738" width="1" height="15" fill="#c0c0c0"/><rect x="882" y="738" width="1" height="15" fill="#c0c0c0"/><rect x="886" y="737" width="1" height="16" fill="#c0c0c0"/><rect x="890" y="738" width="1" height="15" fill="#c0c0c0"/><rect x="894" y="736" width="1" height="17" fill="#c0c0c0"/><rect x="898" y="733" width="1" height="20" fill="#c0c0c0"/><rect x="902" y="732" width="1" height="21" fill="#c0c0c0"/><rect x="906" y="730" width="1" height="23" fill="#c0c0c0"/><rect x="910" y="728" width="1" height="25" fill="#c0c0c0"/><rect x="914" y="727" width="1" height="26" fill="#c0c0c0"/><rect x="918" y="726" width="1" height="27" fill="#c0c0c0"/><rect x="922" y="725" width="1" height="28" fill="#c0c0c0"/><rect x="926" y="720" width="1" height="33" fill="#c0c0c0"/><rect x="930" y="716" width="1" height="37" fill="#c0c0c0"/><rect x="934" y="713" width="1" height="40" fill="#c0c0c0"/><rect x="938" y="710" width="1" height="43" fill="#c0c0c0"/><rect x="942" y="705" width="1" height="48" fill="#c0c0c0"/><rect x="946" y="702" width="1" height="51" fill="#c0c0c0"/><rect x="950" y="699" width="1" height="54" fill="#c0c0c0"/><rect x="954" y="697" width="1" height="56" fill="#c0c0c0"/><rect x="958" y="695" width="1" height="58" fill="#c0c0c0"/><rect x="962" y="695" width="1" height="58" fill="#c0c0c0"/><rect x="966" y="696" width="1" height="57" fill="#c0c0c0"/><rect x="970" y="698" width="1" height="55" fill="#c0c0c0"/><rect x="974" y="695" width="1" height="58" fill="#c0c0c0"/><rect x="978" y="696" width="1" height="57" fill="#c0c0c0"/><rect x="982" y="699" width="1" height="54" fill="#c0c0c0"/><rect x="986" y="702" width="1" height="51" fill="#c0c0c0"/><rect x="990" y="706" width="1" height="47" fill="#c0c0c0"/><rect x="994" y="709" width="1" height="44" fill="#c0c0c0"/><rect x="998" y="711" width="1" height="42" fill="#c0c0c0"/><rect x="1002" y="712" width="1" height="41" fill="#c0c0c0"/><rect x="1006" y="713" width="1" height="40" fill="#c0c0c0"/><rect x="1010" y="714" width="1" height="39" fill="#c0c0c0"/><rect x="1014" y="714" width="1" height="39" fill="#c0c0c0"/><rect x="1018" y="713" width="1" height="40" fill="#c0c0c0"/><rect x="1022" y="713" width="1" height="40" fill="#c0c0c0"/><rect x="1026" y="715" width="1" height="38" fill="#c0c0c0"/><rect x="1030" y="720" width="1" height="33" fill="#c0c0c0"/><rect x="1034" y="724" width="1" height="29" fill="#c0c0c0"/><rect x="1038" y="726" width="1" height="27" fill="#c0c0c0"/><rect x="1042" y="728" width="1" height="25" fill="#c0c0c0"/><rect x="1046" y="730" width="1" height="23" fill="#c0c0c0"/><rect x="1050" y="732" width="1" height="21" fill="#c0c0c0"/><rect x="1054" y="730" width="1" height="23" fill="#c0c0c0"/><rect x="1058" y="730" width="1" height="23" fill="#c0c0c0"/><rect x="1062" y="728" width="1" height="25" fill="#c0c0c0"/><rect x="1066" y="727" width="1" height="26" fill="#c0c0c0"/><rect x="1070" y="730" width="1" height="23" fill="#c0c0c0"/><rect x="1074" y="733" width="1" height="20" fill="#c0c0c0"/><rect x="1078" y="735" width="1" height="18" fill="#c0c0c0"/><rect x="1082" y="737" width="1" height="16" fill="#c0c0c0"/><rect x="1086" y="739" width="1" height="14" fill="#c0c0c0"/><rect x="1090" y="742" width="1" height="11" fill="#c0c0c0"/><rect x="1094" y="744" width="1" height="9" fill="#c0c0c0"/><rect x="1098" y="743" width="1" height="10" fill="#c0c0c0"/><rect x="1102" y="743" width="1" height="10" fill="#c0c0c0"/><rect x="1106" y="744" width="1" height="9" fill="#c0c0c0"/><rect x="1110" y="743" width="1" height="10" fill="#c0c0c0"/><rect x="1114" y="744" width="1" height="9" fill="#c0c0c0"/><rect x="1118" y="745" width="1" height="8" fill="#c0c0c0"/><rect x="1122" y="746" width="1" height="7" fill="#c0c0c0"/><rect x="1126" y="746" width="1" height="7" fill="#c0c0c0"/><rect x="1130" y="747" width="1" height="6" fill="#c0c0c0"/><rect x="1134" y="751" width="1" height="2" fill="#c0c0c0"/><rect x="1138" y="752" width="1" height="4" fill="#c0c0c0"/><rect x="1142" y="752" width="1" height="8" fill="#c0c0c0"/><rect x="1146" y="752" width="1" height="12" fill="#c0c0c0"/><rect x="1150" y="752" width="1" height="16" fill="#c0c0c0"/><rect x="1154" y="752" width="1" height="19" fill="#c0c0c0"/><rect x="1158" y="752" width="1" height="20" fill="#c0c0c0"/><rect x="1162" y="752" width="1" height="19" fill="#c0c0c0"/><rect x="1166" y="752" width="1" height="17" fill="#c0c0c0"/><rect x="1170" y="752" width="1" height="15" fill="#c0c0c0"/><rect x="1174" y="752" width="1" height="14" fill="#c0c0c0"/><rect x="1178" y="752" width="1" height="13" fill="#c0c0c0"/><rect x="1182" y="752" width="1" height="10" fill="#c0c0c0"/><rect x="1186" y="752" width="1" height="8" fill="#c0c0c0"/><rect x="1190" y="752" width="1" height="6" fill="#c0c0c0"/><rect x="1194" y="752" width="1" height="6" fill="#c0c0c0"/><rect x="1198" y="752" width="1" height="3" fill="#c0c0c0"/><rect x="1202" y="751" width="1" height="2" fill="#c0c0c0"/><rect x="1206" y="750" width="1" height="3" fill="#c0c0c0"/><rect x="1210" y="751" width="1" height="2" fill="#c0c0c0"/><rect x="1214" y="751" width="1" height="2" fill="#c0c0c0"/><rect x="1218" y="752" width="1" height="3" fill="#c0c0c0"/><rect x="1222" y="752" width="1" height="4" fill="#c0c0c0"/><rect x="1226" y="752" width="1" height="5" fill="#c0c0c0"/><rect x="1230" y="752" width="1" height="3" fill="#c0c0c0"/><rect x="1234" y="751" width="1" height="2" fill="#c0c0c0"/><rect x="1238" y="748" width="1" height="5" fill="#c0c0c0"/><rect x="1242" y="747" width="1" height="6" fill="#c0c0c0"/><rect x="1246" y="745" width="1" height="8" fill="#c0c0c0"/><rect x="1250" y="743" width="1" height="10" fill="#c0c0c0"/><rect x="1254" y="744" width="1" height="9" fill="#c0c0c0"/><rect x="1258" y="744" width="1" height="9" fill="#c0c0c0"/><rect x="1262" y="746" width="1" height="7" fill="#c0c0c0"/><rect x="1266" y="751" width="1" height="2" fill="#c0c0c0"/><rect x="1270" y="752" width="1" height="3" fill="#c0c0c0"/><polyline points="6.5,739.54 10.5,739.50 14.5,739.66 18.5,739.94 22.5,740.15 26.5,740.20 30.5,740.20 34.5,740.37 38.5,740.59 42.5,741.12 46.5,742.01 50.5,743.22 54.5,744.72 58.5,746.58 62.5,748.68 66.5,750.92 70.5,752.77 74.5,754.29 78.5,755.31 82.5,755.86 86.5,756.06 90.5,756.01 94.5,755.84 98.5,755.59 102.5,755.32 106.5,755.22 110.5,755.33 114.5,755.65 118.5,756.03 122.5,756.48 126.5,756.79 130.5,756.79 134.5,756.50 138.5,755.90 142.5,755.23 146.5,754.47 150.5,753.60 154.5,752.67 158.5,751.68 162.5,750.73 166.5,749.80 170.5,748.99 174.5,748.21 178.5,747.24 182.5,746.27 186.5,745.39 190.5,744.79 194.5,744.44 198.5,744.37 202.5,744.56 206.5,744.92 210.5,745.44 214.5,745.89 218.5,746.08 222.5,745.97 226.5,745.44 230.5,744.55 234.5,743.49 238.5,742.50 242.5,741.51 246.5,740.51 250.5,739.95 254.5,739.89 258.5,740.37 262.5,741.29 266.5,742.48 270.5,743.79 274.5,745.05 278.5,746.17 282.5,747.32 286.5,748.45 290.5,749.48 294.5,750.39 298.5,751.18 302.5,751.98 306.5,752.93 310.5,754.03 314.5,755.33 318.5,756.77 322.5,758.19 326.5,759.58 330.5,760.72 334.5,761.59 338.5,762.10 342.5,762.34 346.5,762.37 350.5,762.38 354.5,762.40 358.5,762.43 362.5,762.53 366.5,762.92 370.5,763.73 374.5,764.95 378.5,766.54 382.5,768.33 386.5,770.17 390.5,771.96 394.5,773.66 398.5,775.33 402.5,776.82 406.5,777.93 410.5,778.64 414.5,778.85 418.5,778.62 422.5,778.02 426.5,776.67 430.5,774.70 434.5,772.00 438.5,768.43 442.5,764.21 446.5,759.72 450.5,754.87 454.5,749.36 458.5,743.38 462.5,737.15 466.5,731.10 470.5,725.65 474.5,721.87 478.5,719.66 482.5,718.54 486.5,718.25 490.5,719.65 494.5,722.96 498.5,728.59 502.5,735.73 506.5,743.86 510.5,751.52 514.5,758.57 518.5,764.90 522.5,770.12 526.5,773.68 530.5,775.14 534.5,774.82 538.5,773.06 542.5,770.40 546.5,767.73 550.5,765.45 554.5,763.60 558.5,762.85 562.5,762.78 566.5,763.57 570.5,764.38 574.5,765.12 578.5,765.55 582.5,765.55 586.5,764.74 590.5,763.60 594.5,762.44 598.5,761.42 602.5,760.50 606.5,759.87 610.5,759.65 614.5,759.77 618.5,760.12 622.5,760.95 626.5,761.92 630.5,762.61 634.5,763.18 638.5,763.55 642.5,763.51 646.5,762.79 650.5,761.56 654.5,760.11 658.5,758.70 662.5,757.48 666.5,756.52 670.5,755.67 674.5,755.01 678.5,754.89 682.5,755.26 686.5,756.03 690.5,757.02 694.5,757.85 698.5,758.40 702.5,758.42 706.5,758.05 710.5,757.16 714.5,755.91 718.5,754.78 722.5,753.62 726.5,752.33 730.5,750.72 734.5,748.90 738.5,746.89 742.5,744.73 746.5,742.68 750.5,740.54 754.5,737.95 758.5,734.78 762.5,730.87 766.5,726.83 770.5,722.73 774.5,719.02 778.5,715.56 782.5,712.31 786.5,709.24 790.5,707.00 794.5,705.82 798.5,705.62 802.5,706.13 806.5,707.32 810.5,709.03 814.5,711.47 818.5,714.47 822.5,717.69 826.5,720.34 830.5,722.64 834.5,724.95 838.5,727.23 842.5,729.27 846.5,731.06 850.5,732.50 854.5,733.58 858.5,734.73 862.5,736.14 866.5,737.52 870.5,738.43 874.5,738.98 878.5,739.17 882.5,739.21 886.5,739.08 890.5,738.98 894.5,738.56 898.5,737.76 902.5,736.67 906.5,735.53 910.5,734.30 914.5,733.13 918.5,731.90 922.5,730.50 926.5,728.57 930.5,726.34 934.5,724.03 938.5,721.67 942.5,718.96 946.5,716.11 950.5,713.02 954.5,709.73 958.5,706.40 962.5,703.55 966.5,701.38 970.5,699.77 974.5,698.11 978.5,697.05 982.5,696.68 986.5,696.97 990.5,697.97 994.5,699.58 998.5,701.39 1002.5,703.14 1006.5,704.80 1010.5,706.85 1014.5,708.91 1018.5,710.42 1022.5,711.65 1026.5,712.67 1030.5,713.88 1034.5,715.30 1038.5,716.89 1042.5,718.60 1046.5,720.43 1050.5,722.40 1054.5,724.38 1058.5,726.28 1062.5,727.72 1066.5,728.48 1070.5,729.16 1074.5,729.85 1078.5,730.63 1082.5,731.32 1086.5,732.12 1090.5,733.41 1094.5,734.92 1098.5,736.56 1102.5,738.40 1106.5,739.99 1110.5,741.19 1114.5,742.13 1118.5,743.06 1122.5,743.86 1126.5,744.32 1130.5,744.62 1134.5,745.49 1138.5,746.79 1142.5,748.48 1146.5,750.63 1150.5,753.21 1154.5,756.00 1158.5,758.75 1162.5,761.35 1166.5,763.73 1170.5,765.40 1174.5,766.52 1178.5,767.08 1182.5,766.89 1186.5,765.96 1190.5,764.55 1194.5,762.95 1198.5,761.17 1202.5,759.28 1206.5,757.52 1210.5,755.96 1214.5,754.54 1218.5,753.72 1222.5,753.28 1226.5,753.08 1230.5,752.77 1234.5,752.52 1238.5,752.16 1242.5,751.81 1246.5,751.14 1250.5,750.25 1254.5,749.15 1258.5,747.89 1262.5,746.83 1266.5,746.54 1270.5,746.89" fill="none" stroke="#ff0000" stroke-width="1" stroke-dasharray="3,3"/></g><rect x="5" y="27" width="1594" height="1" fill="#000"/><rect x="5" y="583" width="1594" height="1" fill="#000"/><rect x="5" y="27" width="1" height="557" fill="#000"/><rect x="1598" y="27" width="1" height="557" fill="#000"/><rect x="5" y="585" width="1594" height="1" fill="#000"/><rect x="5" y="687" width="1594" height="1" fill="#000"/><rect x="5" y="585" width="1" height="103" fill="#000"/><rect x="1598" y="585" width="1" height="103" fill="#000"/><rect x="5" y="689" width="1594" height="1" fill="#000"/><rect x="5" y="790" width="1594" height="1" fill="#000"/><rect x="5" y="689" width="1" height="102" fill="#000"/><rect x="1598" y="689" width="1" height="102" fill="#000"/><rect x="1598" y="56" width="1" height="2" fill="#ff0000"/><rect x="1598" y="94" width="1" height="2" fill="#ff0000"/><rect x="1598" y="131" width="1" height="2" fill="#00ff00"/><rect x="1598" y="169" width="1" height="2" fill="#0000ff"/><rect x="1598" y="207" width="1" height="2" fill="#0000ff"/><rect x="1599" y="52" width="2" height="1" fill="#000"/><text x="1603.78" y="56" font-size="10" fill="#000" stroke="#000" stroke-width="0.06" textLength="33.16" lengthAdjust="spacingAndGlyphs" >1.20155</text><rect x="1599" y="85" width="2" height="1" fill="#000"/><text x="1603.78" y="89" font-size="10" fill="#000" stroke="#000" stroke-width="0.06" textLength="33.16" lengthAdjust="spacingAndGlyphs" >1.19280</text><rect x="1599" y="118" width="2" height="1" fill="#000"/><text x="1603.78" y="122" font-size="10" fill="#000" stroke="#000" stroke-width="0.06" textLength="33.16" lengthAdjust="spacingAndGlyphs" >1.18405</text><rect x="1599" y="151" width="2" height="1" fill="#000"/><text x="1603.78" y="155" font-size="10" fill="#000" stroke="#000" stroke-width="0.06" textLength="33.16" lengthAdjust="spacingAndGlyphs" >1.17530</text><rect x="1599" y="184" width="2" height="1" fill="#000"/><text x="1603.78" y="188" font-size="10" fill="#000" stroke="#000" stroke-width="0.06" textLength="33.16" lengthAdjust="spacingAndGlyphs" >1.16655</text><rect x="1599" y="217" width="2" height="1" fill="#000"/><text x="1603.78" y="221" font-size="10" fill="#000" stroke="#000" stroke-width="0.06" textLength="33.16" lengthAdjust="spacingAndGlyphs" >1.15755</text><rect x="1599" y="250" width="2" height="1" fill="#000"/><text x="1603.78" y="254" font-size="10" fill="#000" stroke="#000" stroke-width="0.06" textLength="33.16" lengthAdjust="spacingAndGlyphs" >1.14880</text><rect x="1599" y="283" width="2" height="1" fill="#000"/><text x="1603.78" y="287" font-size="10" fill="#000" stroke="#000" stroke-width="0.06" textLength="33.16" lengthAdjust="spacingAndGlyphs" >1.14005</text><rect x="1599" y="316" width="2" height="1" fill="#000"/><text x="1603.78" y="320" font-size="10" fill="#000" stroke="#000" stroke-width="0.06" textLength="33.16" lengthAdjust="spacingAndGlyphs" >1.13130</text><rect x="1599" y="349" width="2" height="1" fill="#000"/><text x="1603.78" y="353" font-size="10" fill="#000" stroke="#000" stroke-width="0.06" textLength="33.16" lengthAdjust="spacingAndGlyphs" >1.12255</text><rect x="1599" y="382" width="2" height="1" fill="#000"/><text x="1603.76" y="386" font-size="10" fill="#000" stroke="#000" stroke-width="0.06" textLength="33.43" lengthAdjust="spacingAndGlyphs" >1.11380</text><rect x="1599" y="415" width="2" height="1" fill="#000"/><text x="1603.78" y="419" font-size="10" fill="#000" stroke="#000" stroke-width="0.06" textLength="33.16" lengthAdjust="spacingAndGlyphs" >1.10480</text><rect x="1599" y="448" width="2" height="1" fill="#000"/><text x="1603.78" y="452" font-size="10" fill="#000" stroke="#000" stroke-width="0.06" textLength="33.16" lengthAdjust="spacingAndGlyphs" >1.09605</text><rect x="1599" y="481" width="2" height="1" fill="#000"/><text x="1603.78" y="485" font-size="10" fill="#000" stroke="#000" stroke-width="0.06" textLength="33.16" lengthAdjust="spacingAndGlyphs" >1.08730</text><rect x="1599" y="514" width="2" height="1" fill="#000"/><text x="1603.78" y="518" font-size="10" fill="#000" stroke="#000" stroke-width="0.06" textLength="33.16" lengthAdjust="spacingAndGlyphs" >1.07855</text><rect x="1599" y="547" width="2" height="1" fill="#000"/><text x="1603.78" y="551" font-size="10" fill="#000" stroke="#000" stroke-width="0.06" textLength="33.16" lengthAdjust="spacingAndGlyphs" >1.06980</text><rect x="1599" y="580" width="2" height="1" fill="#000"/><text x="1603.78" y="584" font-size="10" fill="#000" stroke="#000" stroke-width="0.06" textLength="33.16" lengthAdjust="spacingAndGlyphs" >1.06105</text><rect x="1600" y="51" width="40" height="11" fill="#ff0000"/><text x="1603.78" y="60" font-size="10" fill="#fff" stroke="#fff" stroke-width="0.06" textLength="33.16" lengthAdjust="spacingAndGlyphs" >1.20019</text><rect x="1600" y="89" width="40" height="11" fill="#ff0000"/><text x="1603.78" y="98" font-size="10" fill="#fff" stroke="#fff" stroke-width="0.06" textLength="33.16" lengthAdjust="spacingAndGlyphs" >1.19008</text><rect x="1600" y="126" width="40" height="11" fill="#00ff00"/><text x="1603.78" y="135" font-size="10" fill="#fff" stroke="#fff" stroke-width="0.06" textLength="33.16" lengthAdjust="spacingAndGlyphs" >1.18024</text><rect x="1600" y="164" width="40" height="11" fill="#0000ff"/><text x="1603.78" y="173" font-size="10" fill="#fff" stroke="#fff" stroke-width="0.06" textLength="33.16" lengthAdjust="spacingAndGlyphs" >1.17014</text><rect x="1600" y="202" width="40" height="11" fill="#0000ff"/><text x="1603.78" y="211" font-size="10" fill="#fff" stroke="#fff" stroke-width="0.06" textLength="33.16" lengthAdjust="spacingAndGlyphs" >1.16003</text><rect x="1600" y="175" width="40" height="8" fill="#000"/><text x="1603.78" y="181" font-size="10" fill="#fff" stroke="#fff" stroke-width="0.06" textLength="33.16" lengthAdjust="spacingAndGlyphs" >1.16837</text><rect x="1600" y="164" width="40" height="11" fill="#0000ff"/><text x="1603.78" y="173" font-size="10" fill="#fff" stroke="#fff" stroke-width="0.06" textLength="33.16" lengthAdjust="spacingAndGlyphs" >1.17014</text><text x="1601.68" y="596" font-size="10" fill="#000" stroke="#000" stroke-width="0.06" textLength="15.35" lengthAdjust="spacingAndGlyphs" >100</text><text x="1600.38" y="620" font-size="10" fill="#000" stroke="#000" stroke-width="0.06" textLength="10.24" lengthAdjust="spacingAndGlyphs" >70</text><text x="1600.38" y="660" font-size="10" fill="#000" stroke="#000" stroke-width="0.06" textLength="10.24" lengthAdjust="spacingAndGlyphs" >30</text><text x="1601.70" y="684" font-size="10" fill="#000" stroke="#000" stroke-width="0.06" textLength="5.12" lengthAdjust="spacingAndGlyphs" >0</text><text x="1602.20" y="700" font-size="10" fill="#000" stroke="#000" stroke-width="0.06" textLength="38.38" lengthAdjust="spacingAndGlyphs" >0.014556</text><text x="1602.00" y="756" font-size="10" fill="#000" stroke="#000" stroke-width="0.06" textLength="17.91" lengthAdjust="spacingAndGlyphs" >0.00</text><text x="1602.00" y="787" font-size="10" fill="#000" stroke="#000" stroke-width="0.06" textLength="41.44" lengthAdjust="spacingAndGlyphs" >-0.009001</text><rect x="1599" y="587" width="1" height="1" fill="#000"/><rect x="1599" y="686" width="1" height="1" fill="#000"/><rect x="1599" y="691" width="1" height="1" fill="#000"/><rect x="1599" y="752" width="1" height="1" fill="#000"/><rect x="1599" y="789" width="1" height="1" fill="#000"/><path d="M9.5 34.5 L16 34.5 L12.75 38 Z" fill="#000"/><text x="20.64" y="39" font-size="10" fill="#000" stroke="#000" stroke-width="0.06" textLength="64.48" lengthAdjust="spacingAndGlyphs" >EURUSD,Daily</text><text x="90.87" y="39" font-size="10" fill="#000" stroke="#000" stroke-width="0.06" textLength="141.70" lengthAdjust="spacingAndGlyphs" >1.16580 1.16838 1.16493 1.16837</text><text x="9.67" y="598" font-size="10" fill="#000" stroke="#000" stroke-width="0.06" textLength="68.60" lengthAdjust="spacingAndGlyphs" >RSI(14) 41.3628</text><text x="9.97" y="702" font-size="10" fill="#000" stroke="#000" stroke-width="0.06" textLength="150.16" lengthAdjust="spacingAndGlyphs" >MACD(12,26,9) -0.000600 0.001193</text><path d="M1274 28 L1283 28 L1278.5 33 Z" fill="#c0c0c0"/><rect x="6" y="791" width="1" height="3" fill="#000"/><text x="5.30" y="803" font-size="10" fill="#000" stroke="#000" stroke-width="0.06" textLength="50.13" lengthAdjust="spacingAndGlyphs" >28 Oct 2019</text><rect x="70" y="791" width="1" height="3" fill="#000"/><text x="68.38" y="803" font-size="10" fill="#000" stroke="#000" stroke-width="0.06" textLength="52.18" lengthAdjust="spacingAndGlyphs" >15 Nov 2019</text><rect x="134" y="791" width="1" height="3" fill="#000"/><text x="133.30" y="803" font-size="10" fill="#000" stroke="#000" stroke-width="0.06" textLength="47.06" lengthAdjust="spacingAndGlyphs" >4 Dec 2019</text><rect x="198" y="791" width="1" height="3" fill="#000"/><text x="197.30" y="803" font-size="10" fill="#000" stroke="#000" stroke-width="0.06" textLength="52.18" lengthAdjust="spacingAndGlyphs" >23 Dec 2019</text><rect x="262" y="791" width="1" height="3" fill="#000"/><text x="260.38" y="803" font-size="10" fill="#000" stroke="#000" stroke-width="0.06" textLength="50.66" lengthAdjust="spacingAndGlyphs" >10 Jan 2020</text><rect x="326" y="791" width="1" height="3" fill="#000"/><text x="325.30" y="803" font-size="10" fill="#000" stroke="#000" stroke-width="0.06" textLength="50.66" lengthAdjust="spacingAndGlyphs" >29 Jan 2020</text><rect x="390" y="791" width="1" height="3" fill="#000"/><text x="388.38" y="803" font-size="10" fill="#000" stroke="#000" stroke-width="0.06" textLength="51.68" lengthAdjust="spacingAndGlyphs" >17 Feb 2020</text><rect x="454" y="791" width="1" height="3" fill="#000"/><text x="453.30" y="803" font-size="10" fill="#000" stroke="#000" stroke-width="0.06" textLength="46.55" lengthAdjust="spacingAndGlyphs" >6 Mar 2020</text><rect x="518" y="791" width="1" height="3" fill="#000"/><text x="517.30" y="803" font-size="10" fill="#000" stroke="#000" stroke-width="0.06" textLength="51.66" lengthAdjust="spacingAndGlyphs" >25 Mar 2020</text><rect x="582" y="791" width="1" height="3" fill="#000"/><text x="580.38" y="803" font-size="10" fill="#000" stroke="#000" stroke-width="0.06" textLength="49.62" lengthAdjust="spacingAndGlyphs" >13 Apr 2020</text><rect x="646" y="791" width="1" height="3" fill="#000"/><text x="644.38" y="803" font-size="10" fill="#000" stroke="#000" stroke-width="0.06" textLength="48.08" lengthAdjust="spacingAndGlyphs" >1 May 2020</text><rect x="710" y="791" width="1" height="3" fill="#000"/><text x="709.30" y="803" font-size="10" fill="#000" stroke="#000" stroke-width="0.06" textLength="53.20" lengthAdjust="spacingAndGlyphs" >20 May 2020</text><rect x="774" y="791" width="1" height="3" fill="#000"/><text x="773.30" y="803" font-size="10" fill="#000" stroke="#000" stroke-width="0.06" textLength="45.54" lengthAdjust="spacingAndGlyphs" >8 Jun 2020</text><rect x="838" y="791" width="1" height="3" fill="#000"/><text x="837.30" y="803" font-size="10" fill="#000" stroke="#000" stroke-width="0.06" textLength="50.66" lengthAdjust="spacingAndGlyphs" >26 Jun 2020</text><rect x="902" y="791" width="1" height="3" fill="#000"/><text x="900.38" y="803" font-size="10" fill="#000" stroke="#000" stroke-width="0.06" textLength="47.58" lengthAdjust="spacingAndGlyphs" >15 Jul 2020</text><rect x="966" y="791" width="1" height="3" fill="#000"/><text x="964.38" y="803" font-size="10" fill="#000" stroke="#000" stroke-width="0.06" textLength="46.56" lengthAdjust="spacingAndGlyphs" >3 Aug 2020</text><rect x="1030" y="791" width="1" height="3" fill="#000"/><text x="1029.30" y="803" font-size="10" fill="#000" stroke="#000" stroke-width="0.06" textLength="51.68" lengthAdjust="spacingAndGlyphs" >21 Aug 2020</text><rect x="1094" y="791" width="1" height="3" fill="#000"/><text x="1093.30" y="803" font-size="10" fill="#000" stroke="#000" stroke-width="0.06" textLength="47.08" lengthAdjust="spacingAndGlyphs" >9 Sep 2020</text><rect x="1158" y="791" width="1" height="3" fill="#000"/><text x="1157.30" y="803" font-size="10" fill="#000" stroke="#000" stroke-width="0.06" textLength="52.18" lengthAdjust="spacingAndGlyphs" >28 Sep 2020</text><rect x="1222" y="791" width="1" height="3" fill="#000"/><text x="1220.38" y="803" font-size="10" fill="#000" stroke="#000" stroke-width="0.06" textLength="50.13" lengthAdjust="spacingAndGlyphs" >16 Oct 2020</text><rect x="0" y="811" width="1640" height="27" fill="#f0f0f0"/><rect x="1" y="811" width="1639" height="1" fill="#e3e3e3"/><rect x="0" y="812" width="1640" height="1" fill="#fafafa"/><rect x="1" y="814" width="1" height="18" fill="#a0a0a0"/><rect x="2" y="814" width="1" height="18" fill="#696969"/><rect x="1" y="813" width="1639" height="1" fill="#000"/><rect x="0" y="833" width="1640" height="1" fill="#fcfcfc"/><rect x="0" y="837" width="1640" height="1" fill="#a0a0a0"/><rect x="112" y="814" width="1" height="19" fill="#f8f8f8"/><rect x="7" y="812" width="104" height="20" fill="#ffffff"/><rect x="7" y="813" width="1" height="19" fill="#000"/><rect x="110" y="813" width="1" height="19" fill="#000"/><rect x="7" y="831" width="104" height="1" fill="#000"/><text x="18.99" y="828" font-size="13" fill="#000" stroke="#000" stroke-width="0.06" textLength="79.10" lengthAdjust="spacingAndGlyphs" >EURUSD,Daily</text><text x="120.59" y="828" font-size="13" fill="#5c5c5c" stroke="#5c5c5c" stroke-width="0.06" textLength="77.14" lengthAdjust="spacingAndGlyphs" >USDCHF,Daily</text><rect x="211" y="816" width="1" height="13" fill="#6d6d6d"/><text x="222.50" y="828" font-size="13" fill="#5c5c5c" stroke="#5c5c5c" stroke-width="0.06" textLength="79.10" lengthAdjust="spacingAndGlyphs" >AUDUSD,Daily</text><rect x="315" y="816" width="1" height="13" fill="#6d6d6d"/><text x="325.40" y="828" font-size="13" fill="#5c5c5c" stroke="#5c5c5c" stroke-width="0.06" textLength="79.10" lengthAdjust="spacingAndGlyphs" >USDCAD,Daily</text><rect x="419" y="816" width="1" height="13" fill="#6d6d6d"/><text x="428.50" y="828" font-size="13" fill="#5c5c5c" stroke="#5c5c5c" stroke-width="0.06" textLength="79.75" lengthAdjust="spacingAndGlyphs" >USDCNH,Daily</text><rect x="523" y="816" width="1" height="13" fill="#6d6d6d"/><text x="534.39" y="828" font-size="13" fill="#5c5c5c" stroke="#5c5c5c" stroke-width="0.06" textLength="79.10" lengthAdjust="spacingAndGlyphs" >EURUSD,Daily</text><rect x="627" y="816" width="1" height="13" fill="#6d6d6d"/><text x="638.30" y="828" font-size="13" fill="#5c5c5c" stroke="#5c5c5c" stroke-width="0.06" textLength="68.00" lengthAdjust="spacingAndGlyphs" >GBPUSD,H4</text><rect x="719" y="816" width="1" height="13" fill="#6d6d6d"/><text x="730.30" y="828" font-size="13" fill="#5c5c5c" stroke="#5c5c5c" stroke-width="0.06" textLength="67.35" lengthAdjust="spacingAndGlyphs" >XAUUSD,H1</text><rect x="811" y="816" width="1" height="13" fill="#6d6d6d"/><text x="821.30" y="828" font-size="13" fill="#5c5c5c" stroke="#5c5c5c" stroke-width="0.06" textLength="47.74" lengthAdjust="spacingAndGlyphs" >HK50,H1</text><rect x="883" y="816" width="1" height="13" fill="#6d6d6d"/><text x="893.60" y="828" font-size="13" fill="#5c5c5c" stroke="#5c5c5c" stroke-width="0.06" textLength="54.29" lengthAdjust="spacingAndGlyphs" >UK100,H1</text><rect x="963" y="816" width="1" height="13" fill="#6d6d6d"/><text x="973.50" y="828" font-size="13" fill="#5c5c5c" stroke="#5c5c5c" stroke-width="0.06" textLength="54.29" lengthAdjust="spacingAndGlyphs" >UK100,H1</text><rect x="1043" y="816" width="1" height="13" fill="#6d6d6d"/><text x="1053.69" y="828" font-size="13" fill="#5c5c5c" stroke="#5c5c5c" stroke-width="0.06" textLength="56.90" lengthAdjust="spacingAndGlyphs" >GER30,H1</text><rect x="1123" y="816" width="1" height="13" fill="#6d6d6d"/><text x="1132.00" y="828" font-size="13" fill="#5c5c5c" stroke="#5c5c5c" stroke-width="0.06" textLength="54.94" lengthAdjust="spacingAndGlyphs" >FRA40,H1</text><rect x="1198" y="816" width="1" height="13" fill="#6d6d6d"/><text x="1208.10" y="828" font-size="13" fill="#5c5c5c" stroke="#5c5c5c" stroke-width="0.06" textLength="49.04" lengthAdjust="spacingAndGlyphs" >USOil,H4</text><rect x="1271" y="816" width="1" height="13" fill="#6d6d6d"/><text x="1280.39" y="828" font-size="13" fill="#5c5c5c" stroke="#5c5c5c" stroke-width="0.06" textLength="63.21" lengthAdjust="spacingAndGlyphs" >USDJPY,H1</text><rect x="1355" y="816" width="1" height="13" fill="#6d6d6d"/><text x="1364.50" y="828" font-size="13" fill="#5c5c5c" stroke="#5c5c5c" stroke-width="0.06" textLength="56.89" lengthAdjust="spacingAndGlyphs" >DJ30,Daily</text><rect x="1435" y="816" width="1" height="13" fill="#6d6d6d"/><text x="1444.50" y="828" font-size="13" fill="#5c5c5c" stroke="#5c5c5c" stroke-width="0.06" textLength="74.55" lengthAdjust="spacingAndGlyphs" >CHINA300,H1</text><rect x="1535" y="816" width="1" height="13" fill="#6d6d6d"/><text x="1544.60" y="828" font-size="13" fill="#5c5c5c" stroke="#5c5c5c" stroke-width="0.06" textLength="49.04" lengthAdjust="spacingAndGlyphs" >USOil,H1</text><rect x="1607" y="816" width="1" height="13" fill="#6d6d6d"/><path d="M1617 818.5 L1617 825.5 L1613.5 822 Z" fill="#a0a0a0"/><path d="M1633 818.5 L1633 825.5 L1636.5 822 Z" fill="#000"/></svg></body></html>
